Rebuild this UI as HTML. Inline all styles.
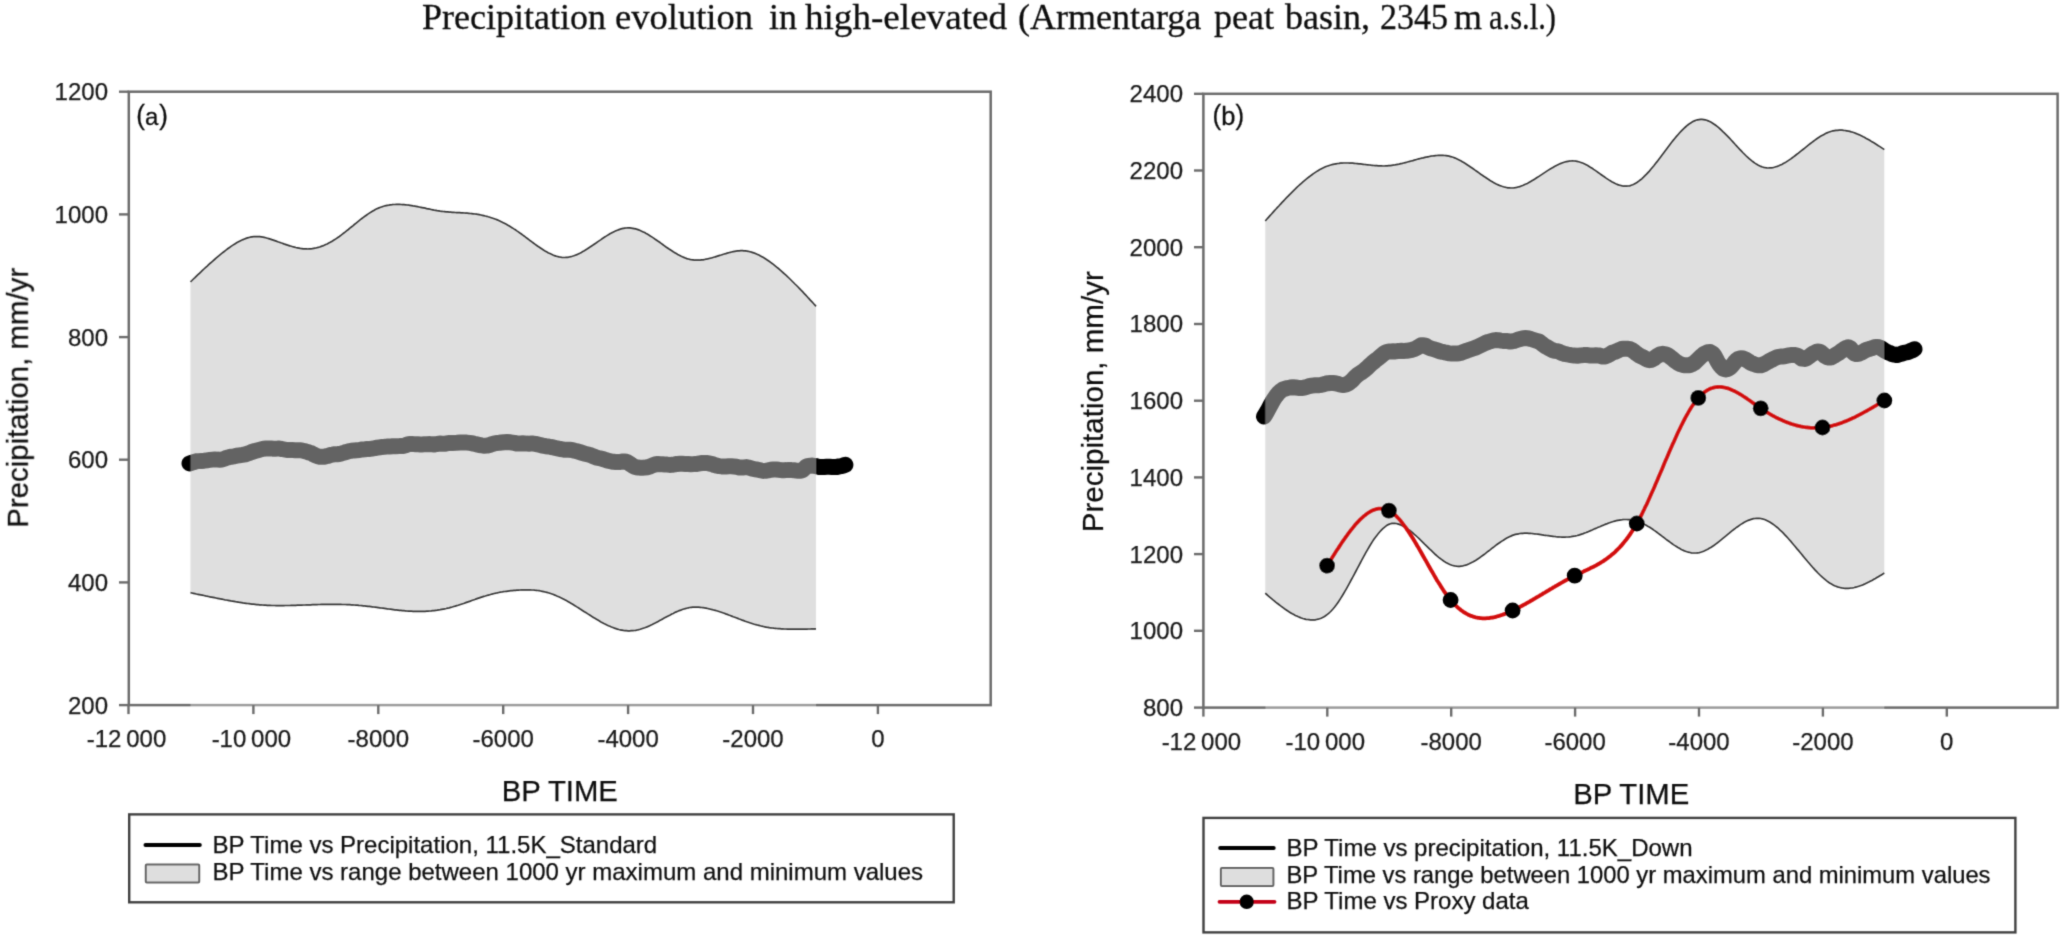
<!DOCTYPE html>
<html><head><meta charset="utf-8"><style>
html,body{margin:0;padding:0;background:#fff;width:2067px;height:945px;overflow:hidden}
svg{display:block}
.title{font-family:"Liberation Serif",serif;font-size:36px;fill:#111;stroke:#111;stroke-width:0.3px}
.tk{font-family:"Liberation Sans",sans-serif;font-size:24px;fill:#1a1a1a;stroke:#1a1a1a;stroke-width:0.25px}
.axt{font-family:"Liberation Sans",sans-serif;font-size:30px;fill:#111;stroke:#111;stroke-width:0.25px}
.lab{font-family:"Liberation Sans",sans-serif;font-size:24px;fill:#111;stroke:#111;stroke-width:0.3px}
.leg{font-family:"Liberation Sans",sans-serif;font-size:24px;fill:#111;stroke:#111;stroke-width:0.25px}
</style></head><body>
<svg width="2067" height="945" viewBox="0 0 2067 945">
<defs><filter id="soft" x="0" y="0" width="2067" height="945" filterUnits="userSpaceOnUse"><feConvolveMatrix order="3" kernelMatrix="0.025 0.1 0.025 0.1 0.5 0.1 0.025 0.1 0.025" edgeMode="duplicate" preserveAlpha="false"/></filter></defs>
<rect width="2067" height="945" fill="#ffffff"/>
<g filter="url(#soft)">
<text x="422" y="29" class="title">Precipitation</text><text x="615" y="29" class="title" textLength="138" lengthAdjust="spacingAndGlyphs">evolution</text><text x="769" y="29" class="title">in</text><text x="805" y="29" class="title" textLength="202" lengthAdjust="spacingAndGlyphs">high-elevated</text><text x="1018" y="29" class="title">(Armentarga</text><text x="1214" y="29" class="title">peat</text><text x="1285" y="29" class="title">basin,</text><text x="1380" y="29" class="title" textLength="68" lengthAdjust="spacingAndGlyphs">2345</text><text x="1454" y="29" class="title">m</text><text x="1489" y="29" class="title" textLength="67" lengthAdjust="spacingAndGlyphs">a.s.l.)</text>

<!-- LEFT -->
<path d="M189.5,463.4 L191.8,462.8 L193.8,462.1 L196.2,461.3 L198.7,461.1 L201.5,460.9 L204.3,460.7 L207.1,460.3 L209.8,459.9 L212.5,459.6 L214.9,459.4 L217.3,459.6 L219.6,459.7 L222.0,459.5 L224.3,458.7 L226.7,457.8 L229.1,457.2 L231.5,456.7 L234.0,456.4 L236.6,455.7 L239.3,455.3 L242.2,454.9 L245.3,454.4 L248.5,453.3 L251.7,452.0 L254.9,451.0 L258.0,450.2 L260.9,449.4 L263.5,448.7 L265.9,448.5 L268.6,448.4 L270.8,448.4 L272.9,448.7 L275.1,448.8 L277.5,448.6 L279.5,448.6 L281.9,449.0 L284.4,449.5 L287.0,450.0 L289.8,450.1 L292.5,450.1 L295.1,450.2 L297.6,450.2 L299.8,450.2 L302.6,450.6 L305.1,451.3 L307.3,451.9 L309.3,452.6 L311.3,453.2 L313.2,454.3 L315.3,455.3 L317.5,456.2 L319.6,456.7 L321.8,456.8 L324.0,456.8 L326.2,456.2 L328.4,455.8 L330.5,455.0 L332.5,454.7 L335.1,454.2 L337.0,454.3 L339.1,454.0 L341.5,453.4 L344.3,452.6 L346.4,451.9 L348.8,451.3 L351.4,450.7 L354.1,450.4 L356.8,450.2 L359.6,450.0 L362.4,449.4 L365.1,449.2 L367.6,448.9 L370.0,448.9 L372.1,448.6 L374.8,448.2 L377.3,447.7 L379.7,447.3 L382.4,446.9 L384.4,446.8 L386.7,446.6 L389.4,446.6 L392.5,446.3 L395.9,446.2 L399.6,446.1 L403.5,445.9 L405.5,445.3 L407.5,444.5 L409.6,443.9 L411.7,443.9 L413.8,444.1 L415.9,444.3 L418.0,444.3 L420.1,444.4 L422.1,444.4 L424.1,444.3 L426.1,444.2 L430.1,444.1 L432.1,444.3 L434.1,444.5 L436.2,444.2 L438.2,443.7 L440.3,443.6 L442.4,443.7 L444.5,443.8 L446.6,443.4 L448.7,443.0 L450.7,442.9 L452.7,442.9 L456.6,442.8 L460.3,442.6 L463.7,442.5 L466.8,442.6 L469.5,442.9 L471.9,443.2 L474.0,443.8 L476.8,444.4 L479.3,445.0 L481.7,445.4 L484.3,445.7 L487.0,445.6 L489.7,445.0 L492.1,444.1 L494.6,443.3 L497.3,442.9 L499.3,442.8 L501.5,442.5 L504.1,442.2 L507.0,442.0 L510.4,442.3 L514.2,442.9 L516.3,443.4 L518.3,443.5 L520.4,443.4 L522.6,443.3 L524.8,443.4 L526.9,443.6 L529.1,443.7 L531.2,443.6 L533.3,443.6 L535.3,443.9 L539.2,444.8 L542.6,445.6 L545.7,446.2 L548.4,446.5 L550.9,447.0 L553.2,447.4 L555.4,448.0 L557.4,448.4 L560.1,449.0 L562.7,449.4 L565.0,449.8 L567.2,449.8 L569.3,449.7 L571.8,450.0 L574.7,450.8 L577.5,451.4 L581.0,452.5 L582.9,453.1 L584.9,453.8 L587.1,454.3 L589.3,454.8 L591.5,455.6 L593.8,456.5 L596.0,457.4 L598.3,458.0 L600.5,458.4 L602.7,459.0 L604.7,459.6 L606.7,460.4 L610.4,461.2 L613.4,461.8 L615.8,462.0 L617.9,462.0 L620.3,461.9 L622.9,461.5 L625.0,461.4 L627.2,462.1 L629.2,463.3 L631.1,464.7 L632.9,465.9 L634.7,466.8 L636.5,467.3 L638.4,467.6 L640.5,467.7 L642.7,467.7 L644.9,467.6 L647.2,467.3 L649.6,466.6 L652.2,465.5 L654.9,464.5 L657.9,464.0 L660.1,464.2 L662.3,464.3 L664.7,464.5 L667.1,464.6 L669.6,464.9 L672.1,464.8 L674.7,464.4 L677.2,463.9 L679.8,463.7 L682.4,463.8 L685.2,463.9 L688.0,464.0 L691.0,464.2 L694.0,464.1 L696.9,463.9 L699.7,463.4 L702.4,463.0 L704.9,462.9 L707.2,463.0 L709.9,463.6 L712.4,464.1 L714.6,465.1 L716.9,465.7 L719.0,466.1 L721.7,466.4 L723.9,466.5 L726.2,466.5 L728.7,466.3 L731.3,466.3 L733.9,466.5 L736.5,466.8 L739.1,467.5 L741.6,467.4 L744.0,467.4 L746.3,467.1 L748.5,467.5 L750.6,468.1 L752.8,468.8 L754.9,469.3 L757.0,469.5 L759.1,470.0 L761.3,470.5 L763.5,470.9 L765.8,470.7 L768.2,470.4 L770.8,469.8 L773.4,469.5 L776.1,469.5 L778.8,469.8 L781.4,470.2 L784.0,470.2 L786.4,470.1 L788.6,469.9 L791.4,470.1 L793.7,470.2 L796.3,470.6 L798.4,470.8 L800.7,470.7 L802.8,469.9 L804.6,468.2 L806.2,466.7 L808.1,465.9 L810.4,465.7 L812.4,465.6 L814.6,465.9 L817.0,466.4 L819.4,467.0 L821.8,467.1 L824.2,467.0 L826.7,466.8 L829.4,466.8 L832.1,467.0 L834.7,466.9 L837.1,466.9 L839.2,466.4 L841.4,466.1 L843.5,465.5 L845.4,464.8" fill="none" stroke="#000" stroke-width="16" stroke-linecap="round" stroke-linejoin="round"/>
<path d="M190.5,281.9 L192.0,280.5 L193.5,279.0 L195.0,277.6 L196.5,276.1 L198.0,274.7 L199.5,273.3 L201.0,271.9 L202.5,270.4 L204.0,269.0 L205.5,267.6 L207.0,266.3 L208.5,264.9 L210.0,263.5 L211.6,262.2 L213.1,260.8 L214.6,259.5 L216.1,258.2 L217.6,256.9 L219.1,255.7 L220.6,254.4 L222.1,253.2 L223.6,252.0 L225.1,250.8 L226.6,249.7 L228.1,248.5 L229.6,247.5 L231.1,246.4 L232.6,245.4 L234.1,244.4 L235.6,243.5 L237.1,242.6 L238.6,241.8 L240.1,241.0 L241.6,240.3 L243.1,239.6 L244.6,239.0 L246.1,238.4 L247.6,237.9 L249.1,237.5 L250.6,237.2 L252.1,236.9 L253.7,236.7 L255.2,236.6 L256.7,236.6 L258.2,236.6 L259.7,236.7 L261.2,236.9 L262.7,237.1 L264.2,237.4 L265.7,237.8 L267.2,238.2 L268.7,238.6 L270.2,239.1 L271.7,239.6 L273.2,240.1 L274.7,240.6 L276.2,241.1 L277.7,241.7 L279.2,242.2 L280.7,242.8 L282.2,243.3 L283.7,243.9 L285.2,244.4 L286.7,244.9 L288.2,245.4 L289.7,245.9 L291.2,246.3 L292.7,246.7 L294.2,247.1 L295.8,247.5 L297.3,247.8 L298.8,248.1 L300.3,248.4 L301.8,248.6 L303.3,248.8 L304.8,248.9 L306.3,248.9 L307.8,249.0 L309.3,248.9 L310.8,248.8 L312.3,248.7 L313.8,248.4 L315.3,248.2 L316.8,247.8 L318.3,247.4 L319.8,247.0 L321.3,246.4 L322.8,245.9 L324.3,245.3 L325.8,244.6 L327.3,243.9 L328.8,243.1 L330.3,242.3 L331.8,241.4 L333.3,240.5 L334.8,239.6 L336.3,238.6 L337.9,237.5 L339.4,236.5 L340.9,235.3 L342.4,234.2 L343.9,233.0 L345.4,231.9 L346.9,230.7 L348.4,229.5 L349.9,228.2 L351.4,227.0 L352.9,225.8 L354.4,224.5 L355.9,223.3 L357.4,222.1 L358.9,220.9 L360.4,219.7 L361.9,218.5 L363.4,217.4 L364.9,216.3 L366.4,215.2 L367.9,214.1 L369.4,213.1 L370.9,212.2 L372.4,211.3 L373.9,210.4 L375.4,209.6 L376.9,208.8 L378.5,208.1 L380.0,207.5 L381.5,207.0 L383.0,206.5 L384.5,206.0 L386.0,205.6 L387.5,205.3 L389.0,205.1 L390.5,204.8 L392.0,204.7 L393.5,204.5 L395.0,204.5 L396.5,204.4 L398.0,204.4 L399.5,204.4 L401.0,204.5 L402.5,204.6 L404.0,204.7 L405.5,204.8 L407.0,205.0 L408.5,205.2 L410.0,205.4 L411.5,205.6 L413.0,205.9 L414.5,206.1 L416.0,206.4 L417.5,206.7 L419.0,207.0 L420.6,207.3 L422.1,207.6 L423.6,207.9 L425.1,208.2 L426.6,208.6 L428.1,208.9 L429.6,209.2 L431.1,209.5 L432.6,209.8 L434.1,210.1 L435.6,210.3 L437.1,210.6 L438.6,210.8 L440.1,211.1 L441.6,211.3 L443.1,211.5 L444.6,211.6 L446.1,211.8 L447.6,211.9 L449.1,212.1 L450.6,212.2 L452.1,212.3 L453.6,212.4 L455.1,212.5 L456.6,212.6 L458.1,212.6 L459.6,212.7 L461.1,212.8 L462.7,212.9 L464.2,213.0 L465.7,213.1 L467.2,213.2 L468.7,213.3 L470.2,213.5 L471.7,213.6 L473.2,213.8 L474.7,214.0 L476.2,214.2 L477.7,214.4 L479.2,214.7 L480.7,215.0 L482.2,215.3 L483.7,215.6 L485.2,216.0 L486.7,216.3 L488.2,216.8 L489.7,217.2 L491.2,217.7 L492.7,218.2 L494.2,218.7 L495.7,219.3 L497.2,219.9 L498.7,220.6 L500.2,221.3 L501.7,222.0 L503.2,222.7 L504.8,223.5 L506.3,224.3 L507.8,225.2 L509.3,226.1 L510.8,227.0 L512.3,227.9 L513.8,228.9 L515.3,229.8 L516.8,230.9 L518.3,231.9 L519.8,233.0 L521.3,234.0 L522.8,235.1 L524.3,236.2 L525.8,237.4 L527.3,238.5 L528.8,239.6 L530.3,240.8 L531.8,241.9 L533.3,243.0 L534.8,244.1 L536.3,245.2 L537.8,246.3 L539.3,247.3 L540.8,248.3 L542.3,249.3 L543.8,250.3 L545.4,251.2 L546.9,252.0 L548.4,252.9 L549.9,253.6 L551.4,254.3 L552.9,255.0 L554.4,255.6 L555.9,256.1 L557.4,256.5 L558.9,256.9 L560.4,257.2 L561.9,257.4 L563.4,257.5 L564.9,257.5 L566.4,257.4 L567.9,257.3 L569.4,257.0 L570.9,256.7 L572.4,256.3 L573.9,255.8 L575.4,255.2 L576.9,254.6 L578.4,253.9 L579.9,253.2 L581.4,252.4 L582.9,251.5 L584.4,250.7 L585.9,249.8 L587.5,248.8 L589.0,247.8 L590.5,246.8 L592.0,245.8 L593.5,244.8 L595.0,243.7 L596.5,242.7 L598.0,241.6 L599.5,240.6 L601.0,239.6 L602.5,238.5 L604.0,237.5 L605.5,236.6 L607.0,235.6 L608.5,234.7 L610.0,233.8 L611.5,233.0 L613.0,232.2 L614.5,231.5 L616.0,230.8 L617.5,230.2 L619.0,229.6 L620.5,229.1 L622.0,228.7 L623.5,228.4 L625.0,228.1 L626.5,228.0 L628.0,227.9 L629.6,227.9 L631.1,228.1 L632.6,228.3 L634.1,228.6 L635.6,228.9 L637.1,229.4 L638.6,229.9 L640.1,230.5 L641.6,231.2 L643.1,231.9 L644.6,232.6 L646.1,233.5 L647.6,234.3 L649.1,235.2 L650.6,236.2 L652.1,237.1 L653.6,238.1 L655.1,239.2 L656.6,240.2 L658.1,241.3 L659.6,242.3 L661.1,243.4 L662.6,244.5 L664.1,245.6 L665.6,246.7 L667.1,247.7 L668.6,248.8 L670.2,249.8 L671.7,250.8 L673.2,251.8 L674.7,252.7 L676.2,253.6 L677.7,254.5 L679.2,255.3 L680.7,256.1 L682.2,256.8 L683.7,257.4 L685.2,258.0 L686.7,258.6 L688.2,259.0 L689.7,259.4 L691.2,259.7 L692.7,259.9 L694.2,260.1 L695.7,260.2 L697.2,260.2 L698.7,260.2 L700.2,260.1 L701.7,259.9 L703.2,259.8 L704.7,259.5 L706.2,259.2 L707.7,258.9 L709.2,258.5 L710.7,258.2 L712.3,257.7 L713.8,257.3 L715.3,256.9 L716.8,256.4 L718.3,255.9 L719.8,255.4 L721.3,255.0 L722.8,254.5 L724.3,254.0 L725.8,253.6 L727.3,253.1 L728.8,252.7 L730.3,252.3 L731.8,252.0 L733.3,251.7 L734.8,251.4 L736.3,251.1 L737.8,250.9 L739.3,250.8 L740.8,250.7 L742.3,250.7 L743.8,250.8 L745.3,250.9 L746.8,251.1 L748.3,251.3 L749.8,251.7 L751.3,252.1 L752.8,252.6 L754.4,253.1 L755.9,253.7 L757.4,254.4 L758.9,255.1 L760.4,255.9 L761.9,256.7 L763.4,257.6 L764.9,258.5 L766.4,259.5 L767.9,260.5 L769.4,261.5 L770.9,262.6 L772.4,263.7 L773.9,264.9 L775.4,266.1 L776.9,267.3 L778.4,268.5 L779.9,269.8 L781.4,271.1 L782.9,272.5 L784.4,273.8 L785.9,275.2 L787.4,276.6 L788.9,278.0 L790.4,279.5 L791.9,281.0 L793.4,282.5 L794.9,284.0 L796.5,285.5 L798.0,287.0 L799.5,288.6 L801.0,290.2 L802.5,291.7 L804.0,293.3 L805.5,294.9 L807.0,296.5 L808.5,298.2 L810.0,299.8 L811.5,301.4 L813.0,303.0 L814.5,304.7 L816.0,306.3 L816.0,628.8 L814.5,628.8 L813.0,628.9 L811.5,628.9 L810.0,629.0 L808.5,629.0 L807.0,629.1 L805.5,629.1 L804.0,629.1 L802.5,629.2 L801.0,629.2 L799.5,629.2 L798.0,629.2 L796.5,629.2 L794.9,629.2 L793.4,629.2 L791.9,629.2 L790.4,629.2 L788.9,629.1 L787.4,629.1 L785.9,629.0 L784.4,629.0 L782.9,628.9 L781.4,628.8 L779.9,628.7 L778.4,628.6 L776.9,628.5 L775.4,628.3 L773.9,628.2 L772.4,628.0 L770.9,627.8 L769.4,627.6 L767.9,627.3 L766.4,627.1 L764.9,626.8 L763.4,626.5 L761.9,626.2 L760.4,625.8 L758.9,625.4 L757.4,625.0 L755.9,624.6 L754.4,624.2 L752.8,623.7 L751.3,623.2 L749.8,622.7 L748.3,622.2 L746.8,621.7 L745.3,621.2 L743.8,620.6 L742.3,620.1 L740.8,619.5 L739.3,619.0 L737.8,618.4 L736.3,617.8 L734.8,617.2 L733.3,616.7 L731.8,616.1 L730.3,615.5 L728.8,615.0 L727.3,614.4 L725.8,613.9 L724.3,613.3 L722.8,612.8 L721.3,612.3 L719.8,611.8 L718.3,611.3 L716.8,610.8 L715.3,610.4 L713.8,610.0 L712.3,609.6 L710.7,609.2 L709.2,608.8 L707.7,608.5 L706.2,608.2 L704.7,607.9 L703.2,607.7 L701.7,607.5 L700.2,607.3 L698.7,607.2 L697.2,607.1 L695.7,607.1 L694.2,607.1 L692.7,607.2 L691.2,607.3 L689.7,607.5 L688.2,607.8 L686.7,608.2 L685.2,608.6 L683.7,609.0 L682.2,609.5 L680.7,610.1 L679.2,610.6 L677.7,611.3 L676.2,611.9 L674.7,612.6 L673.2,613.4 L671.7,614.1 L670.2,614.9 L668.6,615.7 L667.1,616.5 L665.6,617.3 L664.1,618.1 L662.6,618.9 L661.1,619.8 L659.6,620.6 L658.1,621.4 L656.6,622.2 L655.1,623.0 L653.6,623.7 L652.1,624.5 L650.6,625.2 L649.1,625.9 L647.6,626.6 L646.1,627.2 L644.6,627.8 L643.1,628.3 L641.6,628.8 L640.1,629.3 L638.6,629.7 L637.1,630.0 L635.6,630.3 L634.1,630.5 L632.6,630.6 L631.1,630.7 L629.6,630.8 L628.0,630.8 L626.5,630.7 L625.0,630.6 L623.5,630.4 L622.0,630.1 L620.5,629.8 L619.0,629.5 L617.5,629.1 L616.0,628.6 L614.5,628.1 L613.0,627.5 L611.5,627.0 L610.0,626.3 L608.5,625.7 L607.0,625.0 L605.5,624.2 L604.0,623.5 L602.5,622.7 L601.0,621.9 L599.5,621.0 L598.0,620.1 L596.5,619.2 L595.0,618.3 L593.5,617.4 L592.0,616.5 L590.5,615.5 L589.0,614.6 L587.5,613.6 L585.9,612.6 L584.4,611.7 L582.9,610.7 L581.4,609.7 L579.9,608.8 L578.4,607.8 L576.9,606.9 L575.4,605.9 L573.9,605.0 L572.4,604.1 L570.9,603.2 L569.4,602.3 L567.9,601.4 L566.4,600.6 L564.9,599.8 L563.4,599.0 L561.9,598.2 L560.4,597.5 L558.9,596.8 L557.4,596.2 L555.9,595.5 L554.4,594.9 L552.9,594.3 L551.4,593.8 L549.9,593.3 L548.4,592.8 L546.9,592.4 L545.4,592.0 L543.8,591.6 L542.3,591.3 L540.8,591.0 L539.3,590.7 L537.8,590.5 L536.3,590.3 L534.8,590.2 L533.3,590.0 L531.8,590.0 L530.3,589.9 L528.8,589.8 L527.3,589.8 L525.8,589.8 L524.3,589.8 L522.8,589.9 L521.3,589.9 L519.8,590.0 L518.3,590.1 L516.8,590.2 L515.3,590.3 L513.8,590.4 L512.3,590.6 L510.8,590.7 L509.3,590.9 L507.8,591.1 L506.3,591.3 L504.8,591.5 L503.2,591.7 L501.7,592.0 L500.2,592.2 L498.7,592.5 L497.2,592.8 L495.7,593.2 L494.2,593.5 L492.7,593.9 L491.2,594.3 L489.7,594.7 L488.2,595.1 L486.7,595.5 L485.2,596.0 L483.7,596.4 L482.2,596.9 L480.7,597.4 L479.2,597.9 L477.7,598.4 L476.2,598.9 L474.7,599.5 L473.2,600.0 L471.7,600.5 L470.2,601.1 L468.7,601.6 L467.2,602.1 L465.7,602.6 L464.2,603.2 L462.7,603.7 L461.1,604.2 L459.6,604.7 L458.1,605.2 L456.6,605.6 L455.1,606.1 L453.6,606.5 L452.1,607.0 L450.6,607.4 L449.1,607.8 L447.6,608.1 L446.1,608.5 L444.6,608.8 L443.1,609.1 L441.6,609.4 L440.1,609.7 L438.6,609.9 L437.1,610.2 L435.6,610.4 L434.1,610.6 L432.6,610.7 L431.1,610.9 L429.6,611.0 L428.1,611.1 L426.6,611.2 L425.1,611.3 L423.6,611.4 L422.1,611.4 L420.6,611.4 L419.0,611.4 L417.5,611.4 L416.0,611.4 L414.5,611.4 L413.0,611.3 L411.5,611.2 L410.0,611.2 L408.5,611.1 L407.0,611.0 L405.5,610.8 L404.0,610.7 L402.5,610.6 L401.0,610.4 L399.5,610.3 L398.0,610.1 L396.5,609.9 L395.0,609.8 L393.5,609.6 L392.0,609.4 L390.5,609.2 L389.0,609.0 L387.5,608.8 L386.0,608.6 L384.5,608.4 L383.0,608.2 L381.5,608.0 L380.0,607.8 L378.5,607.6 L376.9,607.4 L375.4,607.2 L373.9,607.0 L372.4,606.8 L370.9,606.6 L369.4,606.4 L367.9,606.3 L366.4,606.1 L364.9,605.9 L363.4,605.8 L361.9,605.6 L360.4,605.5 L358.9,605.4 L357.4,605.2 L355.9,605.1 L354.4,605.0 L352.9,604.9 L351.4,604.8 L349.9,604.7 L348.4,604.7 L346.9,604.6 L345.4,604.5 L343.9,604.5 L342.4,604.5 L340.9,604.4 L339.4,604.4 L337.9,604.4 L336.3,604.3 L334.8,604.3 L333.3,604.3 L331.8,604.3 L330.3,604.3 L328.8,604.3 L327.3,604.3 L325.8,604.4 L324.3,604.4 L322.8,604.4 L321.3,604.4 L319.8,604.5 L318.3,604.5 L316.8,604.6 L315.3,604.6 L313.8,604.7 L312.3,604.7 L310.8,604.8 L309.3,604.8 L307.8,604.9 L306.3,604.9 L304.8,605.0 L303.3,605.0 L301.8,605.1 L300.3,605.1 L298.8,605.2 L297.3,605.2 L295.8,605.3 L294.2,605.3 L292.7,605.4 L291.2,605.4 L289.7,605.5 L288.2,605.5 L286.7,605.5 L285.2,605.5 L283.7,605.6 L282.2,605.6 L280.7,605.6 L279.2,605.6 L277.7,605.6 L276.2,605.6 L274.7,605.5 L273.2,605.5 L271.7,605.5 L270.2,605.4 L268.7,605.4 L267.2,605.3 L265.7,605.2 L264.2,605.1 L262.7,605.0 L261.2,604.9 L259.7,604.8 L258.2,604.7 L256.7,604.6 L255.2,604.4 L253.7,604.2 L252.1,604.1 L250.6,603.9 L249.1,603.7 L247.6,603.5 L246.1,603.3 L244.6,603.1 L243.1,602.9 L241.6,602.6 L240.1,602.4 L238.6,602.2 L237.1,601.9 L235.6,601.7 L234.1,601.4 L232.6,601.1 L231.1,600.9 L229.6,600.6 L228.1,600.3 L226.6,600.0 L225.1,599.8 L223.6,599.5 L222.1,599.2 L220.6,598.9 L219.1,598.6 L217.6,598.3 L216.1,598.0 L214.6,597.7 L213.1,597.4 L211.6,597.1 L210.0,596.8 L208.5,596.5 L207.0,596.2 L205.5,595.8 L204.0,595.5 L202.5,595.2 L201.0,594.9 L199.5,594.6 L198.0,594.3 L196.5,594.0 L195.0,593.6 L193.5,593.3 L192.0,593.0 L190.5,592.7 Z" fill="rgba(192,192,192,0.514)" stroke="none"/>
<path d="M190.5,281.9 L192.0,280.5 L193.5,279.0 L195.0,277.6 L196.5,276.1 L198.0,274.7 L199.5,273.3 L201.0,271.9 L202.5,270.4 L204.0,269.0 L205.5,267.6 L207.0,266.3 L208.5,264.9 L210.0,263.5 L211.6,262.2 L213.1,260.8 L214.6,259.5 L216.1,258.2 L217.6,256.9 L219.1,255.7 L220.6,254.4 L222.1,253.2 L223.6,252.0 L225.1,250.8 L226.6,249.7 L228.1,248.5 L229.6,247.5 L231.1,246.4 L232.6,245.4 L234.1,244.4 L235.6,243.5 L237.1,242.6 L238.6,241.8 L240.1,241.0 L241.6,240.3 L243.1,239.6 L244.6,239.0 L246.1,238.4 L247.6,237.9 L249.1,237.5 L250.6,237.2 L252.1,236.9 L253.7,236.7 L255.2,236.6 L256.7,236.6 L258.2,236.6 L259.7,236.7 L261.2,236.9 L262.7,237.1 L264.2,237.4 L265.7,237.8 L267.2,238.2 L268.7,238.6 L270.2,239.1 L271.7,239.6 L273.2,240.1 L274.7,240.6 L276.2,241.1 L277.7,241.7 L279.2,242.2 L280.7,242.8 L282.2,243.3 L283.7,243.9 L285.2,244.4 L286.7,244.9 L288.2,245.4 L289.7,245.9 L291.2,246.3 L292.7,246.7 L294.2,247.1 L295.8,247.5 L297.3,247.8 L298.8,248.1 L300.3,248.4 L301.8,248.6 L303.3,248.8 L304.8,248.9 L306.3,248.9 L307.8,249.0 L309.3,248.9 L310.8,248.8 L312.3,248.7 L313.8,248.4 L315.3,248.2 L316.8,247.8 L318.3,247.4 L319.8,247.0 L321.3,246.4 L322.8,245.9 L324.3,245.3 L325.8,244.6 L327.3,243.9 L328.8,243.1 L330.3,242.3 L331.8,241.4 L333.3,240.5 L334.8,239.6 L336.3,238.6 L337.9,237.5 L339.4,236.5 L340.9,235.3 L342.4,234.2 L343.9,233.0 L345.4,231.9 L346.9,230.7 L348.4,229.5 L349.9,228.2 L351.4,227.0 L352.9,225.8 L354.4,224.5 L355.9,223.3 L357.4,222.1 L358.9,220.9 L360.4,219.7 L361.9,218.5 L363.4,217.4 L364.9,216.3 L366.4,215.2 L367.9,214.1 L369.4,213.1 L370.9,212.2 L372.4,211.3 L373.9,210.4 L375.4,209.6 L376.9,208.8 L378.5,208.1 L380.0,207.5 L381.5,207.0 L383.0,206.5 L384.5,206.0 L386.0,205.6 L387.5,205.3 L389.0,205.1 L390.5,204.8 L392.0,204.7 L393.5,204.5 L395.0,204.5 L396.5,204.4 L398.0,204.4 L399.5,204.4 L401.0,204.5 L402.5,204.6 L404.0,204.7 L405.5,204.8 L407.0,205.0 L408.5,205.2 L410.0,205.4 L411.5,205.6 L413.0,205.9 L414.5,206.1 L416.0,206.4 L417.5,206.7 L419.0,207.0 L420.6,207.3 L422.1,207.6 L423.6,207.9 L425.1,208.2 L426.6,208.6 L428.1,208.9 L429.6,209.2 L431.1,209.5 L432.6,209.8 L434.1,210.1 L435.6,210.3 L437.1,210.6 L438.6,210.8 L440.1,211.1 L441.6,211.3 L443.1,211.5 L444.6,211.6 L446.1,211.8 L447.6,211.9 L449.1,212.1 L450.6,212.2 L452.1,212.3 L453.6,212.4 L455.1,212.5 L456.6,212.6 L458.1,212.6 L459.6,212.7 L461.1,212.8 L462.7,212.9 L464.2,213.0 L465.7,213.1 L467.2,213.2 L468.7,213.3 L470.2,213.5 L471.7,213.6 L473.2,213.8 L474.7,214.0 L476.2,214.2 L477.7,214.4 L479.2,214.7 L480.7,215.0 L482.2,215.3 L483.7,215.6 L485.2,216.0 L486.7,216.3 L488.2,216.8 L489.7,217.2 L491.2,217.7 L492.7,218.2 L494.2,218.7 L495.7,219.3 L497.2,219.9 L498.7,220.6 L500.2,221.3 L501.7,222.0 L503.2,222.7 L504.8,223.5 L506.3,224.3 L507.8,225.2 L509.3,226.1 L510.8,227.0 L512.3,227.9 L513.8,228.9 L515.3,229.8 L516.8,230.9 L518.3,231.9 L519.8,233.0 L521.3,234.0 L522.8,235.1 L524.3,236.2 L525.8,237.4 L527.3,238.5 L528.8,239.6 L530.3,240.8 L531.8,241.9 L533.3,243.0 L534.8,244.1 L536.3,245.2 L537.8,246.3 L539.3,247.3 L540.8,248.3 L542.3,249.3 L543.8,250.3 L545.4,251.2 L546.9,252.0 L548.4,252.9 L549.9,253.6 L551.4,254.3 L552.9,255.0 L554.4,255.6 L555.9,256.1 L557.4,256.5 L558.9,256.9 L560.4,257.2 L561.9,257.4 L563.4,257.5 L564.9,257.5 L566.4,257.4 L567.9,257.3 L569.4,257.0 L570.9,256.7 L572.4,256.3 L573.9,255.8 L575.4,255.2 L576.9,254.6 L578.4,253.9 L579.9,253.2 L581.4,252.4 L582.9,251.5 L584.4,250.7 L585.9,249.8 L587.5,248.8 L589.0,247.8 L590.5,246.8 L592.0,245.8 L593.5,244.8 L595.0,243.7 L596.5,242.7 L598.0,241.6 L599.5,240.6 L601.0,239.6 L602.5,238.5 L604.0,237.5 L605.5,236.6 L607.0,235.6 L608.5,234.7 L610.0,233.8 L611.5,233.0 L613.0,232.2 L614.5,231.5 L616.0,230.8 L617.5,230.2 L619.0,229.6 L620.5,229.1 L622.0,228.7 L623.5,228.4 L625.0,228.1 L626.5,228.0 L628.0,227.9 L629.6,227.9 L631.1,228.1 L632.6,228.3 L634.1,228.6 L635.6,228.9 L637.1,229.4 L638.6,229.9 L640.1,230.5 L641.6,231.2 L643.1,231.9 L644.6,232.6 L646.1,233.5 L647.6,234.3 L649.1,235.2 L650.6,236.2 L652.1,237.1 L653.6,238.1 L655.1,239.2 L656.6,240.2 L658.1,241.3 L659.6,242.3 L661.1,243.4 L662.6,244.5 L664.1,245.6 L665.6,246.7 L667.1,247.7 L668.6,248.8 L670.2,249.8 L671.7,250.8 L673.2,251.8 L674.7,252.7 L676.2,253.6 L677.7,254.5 L679.2,255.3 L680.7,256.1 L682.2,256.8 L683.7,257.4 L685.2,258.0 L686.7,258.6 L688.2,259.0 L689.7,259.4 L691.2,259.7 L692.7,259.9 L694.2,260.1 L695.7,260.2 L697.2,260.2 L698.7,260.2 L700.2,260.1 L701.7,259.9 L703.2,259.8 L704.7,259.5 L706.2,259.2 L707.7,258.9 L709.2,258.5 L710.7,258.2 L712.3,257.7 L713.8,257.3 L715.3,256.9 L716.8,256.4 L718.3,255.9 L719.8,255.4 L721.3,255.0 L722.8,254.5 L724.3,254.0 L725.8,253.6 L727.3,253.1 L728.8,252.7 L730.3,252.3 L731.8,252.0 L733.3,251.7 L734.8,251.4 L736.3,251.1 L737.8,250.9 L739.3,250.8 L740.8,250.7 L742.3,250.7 L743.8,250.8 L745.3,250.9 L746.8,251.1 L748.3,251.3 L749.8,251.7 L751.3,252.1 L752.8,252.6 L754.4,253.1 L755.9,253.7 L757.4,254.4 L758.9,255.1 L760.4,255.9 L761.9,256.7 L763.4,257.6 L764.9,258.5 L766.4,259.5 L767.9,260.5 L769.4,261.5 L770.9,262.6 L772.4,263.7 L773.9,264.9 L775.4,266.1 L776.9,267.3 L778.4,268.5 L779.9,269.8 L781.4,271.1 L782.9,272.5 L784.4,273.8 L785.9,275.2 L787.4,276.6 L788.9,278.0 L790.4,279.5 L791.9,281.0 L793.4,282.5 L794.9,284.0 L796.5,285.5 L798.0,287.0 L799.5,288.6 L801.0,290.2 L802.5,291.7 L804.0,293.3 L805.5,294.9 L807.0,296.5 L808.5,298.2 L810.0,299.8 L811.5,301.4 L813.0,303.0 L814.5,304.7 L816.0,306.3" fill="none" stroke="#333" stroke-width="1.7"/>
<path d="M190.5,592.7 L192.0,593.0 L193.5,593.3 L195.0,593.6 L196.5,594.0 L198.0,594.3 L199.5,594.6 L201.0,594.9 L202.5,595.2 L204.0,595.5 L205.5,595.8 L207.0,596.2 L208.5,596.5 L210.0,596.8 L211.6,597.1 L213.1,597.4 L214.6,597.7 L216.1,598.0 L217.6,598.3 L219.1,598.6 L220.6,598.9 L222.1,599.2 L223.6,599.5 L225.1,599.8 L226.6,600.0 L228.1,600.3 L229.6,600.6 L231.1,600.9 L232.6,601.1 L234.1,601.4 L235.6,601.7 L237.1,601.9 L238.6,602.2 L240.1,602.4 L241.6,602.6 L243.1,602.9 L244.6,603.1 L246.1,603.3 L247.6,603.5 L249.1,603.7 L250.6,603.9 L252.1,604.1 L253.7,604.2 L255.2,604.4 L256.7,604.6 L258.2,604.7 L259.7,604.8 L261.2,604.9 L262.7,605.0 L264.2,605.1 L265.7,605.2 L267.2,605.3 L268.7,605.4 L270.2,605.4 L271.7,605.5 L273.2,605.5 L274.7,605.5 L276.2,605.6 L277.7,605.6 L279.2,605.6 L280.7,605.6 L282.2,605.6 L283.7,605.6 L285.2,605.5 L286.7,605.5 L288.2,605.5 L289.7,605.5 L291.2,605.4 L292.7,605.4 L294.2,605.3 L295.8,605.3 L297.3,605.2 L298.8,605.2 L300.3,605.1 L301.8,605.1 L303.3,605.0 L304.8,605.0 L306.3,604.9 L307.8,604.9 L309.3,604.8 L310.8,604.8 L312.3,604.7 L313.8,604.7 L315.3,604.6 L316.8,604.6 L318.3,604.5 L319.8,604.5 L321.3,604.4 L322.8,604.4 L324.3,604.4 L325.8,604.4 L327.3,604.3 L328.8,604.3 L330.3,604.3 L331.8,604.3 L333.3,604.3 L334.8,604.3 L336.3,604.3 L337.9,604.4 L339.4,604.4 L340.9,604.4 L342.4,604.5 L343.9,604.5 L345.4,604.5 L346.9,604.6 L348.4,604.7 L349.9,604.7 L351.4,604.8 L352.9,604.9 L354.4,605.0 L355.9,605.1 L357.4,605.2 L358.9,605.4 L360.4,605.5 L361.9,605.6 L363.4,605.8 L364.9,605.9 L366.4,606.1 L367.9,606.3 L369.4,606.4 L370.9,606.6 L372.4,606.8 L373.9,607.0 L375.4,607.2 L376.9,607.4 L378.5,607.6 L380.0,607.8 L381.5,608.0 L383.0,608.2 L384.5,608.4 L386.0,608.6 L387.5,608.8 L389.0,609.0 L390.5,609.2 L392.0,609.4 L393.5,609.6 L395.0,609.8 L396.5,609.9 L398.0,610.1 L399.5,610.3 L401.0,610.4 L402.5,610.6 L404.0,610.7 L405.5,610.8 L407.0,611.0 L408.5,611.1 L410.0,611.2 L411.5,611.2 L413.0,611.3 L414.5,611.4 L416.0,611.4 L417.5,611.4 L419.0,611.4 L420.6,611.4 L422.1,611.4 L423.6,611.4 L425.1,611.3 L426.6,611.2 L428.1,611.1 L429.6,611.0 L431.1,610.9 L432.6,610.7 L434.1,610.6 L435.6,610.4 L437.1,610.2 L438.6,609.9 L440.1,609.7 L441.6,609.4 L443.1,609.1 L444.6,608.8 L446.1,608.5 L447.6,608.1 L449.1,607.8 L450.6,607.4 L452.1,607.0 L453.6,606.5 L455.1,606.1 L456.6,605.6 L458.1,605.2 L459.6,604.7 L461.1,604.2 L462.7,603.7 L464.2,603.2 L465.7,602.6 L467.2,602.1 L468.7,601.6 L470.2,601.1 L471.7,600.5 L473.2,600.0 L474.7,599.5 L476.2,598.9 L477.7,598.4 L479.2,597.9 L480.7,597.4 L482.2,596.9 L483.7,596.4 L485.2,596.0 L486.7,595.5 L488.2,595.1 L489.7,594.7 L491.2,594.3 L492.7,593.9 L494.2,593.5 L495.7,593.2 L497.2,592.8 L498.7,592.5 L500.2,592.2 L501.7,592.0 L503.2,591.7 L504.8,591.5 L506.3,591.3 L507.8,591.1 L509.3,590.9 L510.8,590.7 L512.3,590.6 L513.8,590.4 L515.3,590.3 L516.8,590.2 L518.3,590.1 L519.8,590.0 L521.3,589.9 L522.8,589.9 L524.3,589.8 L525.8,589.8 L527.3,589.8 L528.8,589.8 L530.3,589.9 L531.8,590.0 L533.3,590.0 L534.8,590.2 L536.3,590.3 L537.8,590.5 L539.3,590.7 L540.8,591.0 L542.3,591.3 L543.8,591.6 L545.4,592.0 L546.9,592.4 L548.4,592.8 L549.9,593.3 L551.4,593.8 L552.9,594.3 L554.4,594.9 L555.9,595.5 L557.4,596.2 L558.9,596.8 L560.4,597.5 L561.9,598.2 L563.4,599.0 L564.9,599.8 L566.4,600.6 L567.9,601.4 L569.4,602.3 L570.9,603.2 L572.4,604.1 L573.9,605.0 L575.4,605.9 L576.9,606.9 L578.4,607.8 L579.9,608.8 L581.4,609.7 L582.9,610.7 L584.4,611.7 L585.9,612.6 L587.5,613.6 L589.0,614.6 L590.5,615.5 L592.0,616.5 L593.5,617.4 L595.0,618.3 L596.5,619.2 L598.0,620.1 L599.5,621.0 L601.0,621.9 L602.5,622.7 L604.0,623.5 L605.5,624.2 L607.0,625.0 L608.5,625.7 L610.0,626.3 L611.5,627.0 L613.0,627.5 L614.5,628.1 L616.0,628.6 L617.5,629.1 L619.0,629.5 L620.5,629.8 L622.0,630.1 L623.5,630.4 L625.0,630.6 L626.5,630.7 L628.0,630.8 L629.6,630.8 L631.1,630.7 L632.6,630.6 L634.1,630.5 L635.6,630.3 L637.1,630.0 L638.6,629.7 L640.1,629.3 L641.6,628.8 L643.1,628.3 L644.6,627.8 L646.1,627.2 L647.6,626.6 L649.1,625.9 L650.6,625.2 L652.1,624.5 L653.6,623.7 L655.1,623.0 L656.6,622.2 L658.1,621.4 L659.6,620.6 L661.1,619.8 L662.6,618.9 L664.1,618.1 L665.6,617.3 L667.1,616.5 L668.6,615.7 L670.2,614.9 L671.7,614.1 L673.2,613.4 L674.7,612.6 L676.2,611.9 L677.7,611.3 L679.2,610.6 L680.7,610.1 L682.2,609.5 L683.7,609.0 L685.2,608.6 L686.7,608.2 L688.2,607.8 L689.7,607.5 L691.2,607.3 L692.7,607.2 L694.2,607.1 L695.7,607.1 L697.2,607.1 L698.7,607.2 L700.2,607.3 L701.7,607.5 L703.2,607.7 L704.7,607.9 L706.2,608.2 L707.7,608.5 L709.2,608.8 L710.7,609.2 L712.3,609.6 L713.8,610.0 L715.3,610.4 L716.8,610.8 L718.3,611.3 L719.8,611.8 L721.3,612.3 L722.8,612.8 L724.3,613.3 L725.8,613.9 L727.3,614.4 L728.8,615.0 L730.3,615.5 L731.8,616.1 L733.3,616.7 L734.8,617.2 L736.3,617.8 L737.8,618.4 L739.3,619.0 L740.8,619.5 L742.3,620.1 L743.8,620.6 L745.3,621.2 L746.8,621.7 L748.3,622.2 L749.8,622.7 L751.3,623.2 L752.8,623.7 L754.4,624.2 L755.9,624.6 L757.4,625.0 L758.9,625.4 L760.4,625.8 L761.9,626.2 L763.4,626.5 L764.9,626.8 L766.4,627.1 L767.9,627.3 L769.4,627.6 L770.9,627.8 L772.4,628.0 L773.9,628.2 L775.4,628.3 L776.9,628.5 L778.4,628.6 L779.9,628.7 L781.4,628.8 L782.9,628.9 L784.4,629.0 L785.9,629.0 L787.4,629.1 L788.9,629.1 L790.4,629.2 L791.9,629.2 L793.4,629.2 L794.9,629.2 L796.5,629.2 L798.0,629.2 L799.5,629.2 L801.0,629.2 L802.5,629.2 L804.0,629.1 L805.5,629.1 L807.0,629.1 L808.5,629.0 L810.0,629.0 L811.5,628.9 L813.0,628.9 L814.5,628.8 L816.0,628.8" fill="none" stroke="#333" stroke-width="1.7"/>
<rect x="128.8" y="91.7" width="861.9" height="613.4" fill="none" stroke="#6c6c6c" stroke-width="2.5"/>
<rect x="190.5" y="703" width="625.5" height="4.2" fill="rgba(255,255,255,0.32)"/>
<line x1="119" y1="705.1" x2="128.8" y2="705.1" stroke="#6c6c6c" stroke-width="2.4"/><text x="108" y="713.5" text-anchor="end" class="tk">200</text><line x1="119" y1="582.4" x2="128.8" y2="582.4" stroke="#6c6c6c" stroke-width="2.4"/><text x="108" y="590.8" text-anchor="end" class="tk">400</text><line x1="119" y1="459.7" x2="128.8" y2="459.7" stroke="#6c6c6c" stroke-width="2.4"/><text x="108" y="468.1" text-anchor="end" class="tk">600</text><line x1="119" y1="337.1" x2="128.8" y2="337.1" stroke="#6c6c6c" stroke-width="2.4"/><text x="108" y="345.5" text-anchor="end" class="tk">800</text><line x1="119" y1="214.4" x2="128.8" y2="214.4" stroke="#6c6c6c" stroke-width="2.4"/><text x="108" y="222.8" text-anchor="end" class="tk">1000</text><line x1="119" y1="91.7" x2="128.8" y2="91.7" stroke="#6c6c6c" stroke-width="2.4"/><text x="108" y="100.1" text-anchor="end" class="tk">1200</text>
<line x1="128.5" y1="705.1" x2="128.5" y2="714.1" stroke="#6c6c6c" stroke-width="2.4"/><text x="126.5" y="747.1" text-anchor="middle" class="tk">-12 000</text><line x1="253.4" y1="705.1" x2="253.4" y2="714.1" stroke="#6c6c6c" stroke-width="2.4"/><text x="251.4" y="747.1" text-anchor="middle" class="tk">-10 000</text><line x1="378.3" y1="705.1" x2="378.3" y2="714.1" stroke="#6c6c6c" stroke-width="2.4"/><text x="378.3" y="747.1" text-anchor="middle" class="tk">-8000</text><line x1="503.2" y1="705.1" x2="503.2" y2="714.1" stroke="#6c6c6c" stroke-width="2.4"/><text x="503.2" y="747.1" text-anchor="middle" class="tk">-6000</text><line x1="628.1" y1="705.1" x2="628.1" y2="714.1" stroke="#6c6c6c" stroke-width="2.4"/><text x="628.1" y="747.1" text-anchor="middle" class="tk">-4000</text><line x1="753.0" y1="705.1" x2="753.0" y2="714.1" stroke="#6c6c6c" stroke-width="2.4"/><text x="753.0" y="747.1" text-anchor="middle" class="tk">-2000</text><line x1="877.9" y1="705.1" x2="877.9" y2="714.1" stroke="#6c6c6c" stroke-width="2.4"/><text x="877.9" y="747.1" text-anchor="middle" class="tk">0</text>
<text x="136.3" y="124.2" class="lab" style="font-size:27px" textLength="8.66" lengthAdjust="spacingAndGlyphs">(</text><text x="145" y="124.6" class="lab" style="font-size:24px">a</text><text x="159.3" y="124.2" class="lab" style="font-size:27px" textLength="8.66" lengthAdjust="spacingAndGlyphs">)</text>
<text x="501.8" y="800.5" class="axt" textLength="116" lengthAdjust="spacingAndGlyphs">BP TIME</text>
<text transform="translate(27.8,527.8) rotate(-90)" class="axt" textLength="260" lengthAdjust="spacingAndGlyphs">Precipitation, mm/yr</text>

<rect x="129.2" y="814.4" width="824.5" height="87.9" fill="none" stroke="#404040" stroke-width="2.4"/>
<line x1="145.5" y1="844.9" x2="199.8" y2="844.9" stroke="#000" stroke-width="4" stroke-linecap="round"/>
<rect x="145.8" y="864.4" width="53.4" height="18.2" rx="1" fill="#dedede" stroke="#626262" stroke-width="2"/>
<text x="212.5" y="852.9" class="leg">BP Time vs Precipitation, 11.5K_Standard</text>
<text x="212.5" y="879.9" class="leg">BP Time vs range between 1000 yr maximum and minimum values</text>

<!-- RIGHT -->
<path d="M1264.0,416.6 L1265.6,414.1 L1266.9,411.9 L1268.5,409.0 L1270.2,405.8 L1272.0,402.4 L1274.0,399.0 L1276.1,396.0 L1278.2,393.3 L1280.4,391.2 L1282.6,389.6 L1285.0,388.7 L1287.5,388.0 L1290.2,387.5 L1292.9,387.2 L1295.7,387.5 L1298.5,387.9 L1301.3,388.1 L1304.0,387.6 L1306.6,387.0 L1309.1,386.2 L1311.7,385.7 L1314.2,385.3 L1316.7,385.3 L1319.1,385.2 L1321.5,384.8 L1323.9,384.2 L1326.1,383.5 L1328.2,383.2 L1330.3,383.0 L1333.0,383.0 L1335.3,383.2 L1337.3,383.7 L1339.8,384.5 L1342.3,385.0 L1344.3,385.0 L1346.5,384.3 L1348.6,383.3 L1350.7,381.6 L1352.9,379.7 L1354.4,377.9 L1356.1,376.2 L1357.8,374.7 L1359.8,373.4 L1361.9,372.1 L1364.2,370.4 L1366.8,368.2 L1369.5,365.6 L1372.3,363.0 L1375.1,360.7 L1378.0,358.5 L1380.8,356.1 L1383.5,353.8 L1386.1,352.3 L1388.5,351.4 L1390.8,351.4 L1393.1,351.3 L1395.3,351.5 L1397.5,351.1 L1399.6,351.0 L1401.6,350.8 L1403.6,350.9 L1406.5,350.8 L1409.3,350.3 L1411.9,349.8 L1414.3,349.1 L1416.7,347.9 L1418.9,346.6 L1421.2,345.3 L1423.5,345.2 L1425.9,345.8 L1428.1,347.3 L1430.3,348.3 L1432.5,348.9 L1434.8,349.5 L1437.4,350.4 L1440.2,351.4 L1442.3,351.8 L1444.4,352.3 L1446.7,352.7 L1449.1,353.4 L1451.5,353.6 L1454.0,353.6 L1456.6,353.5 L1459.2,353.2 L1461.8,352.6 L1464.5,351.6 L1467.3,350.5 L1470.2,349.5 L1473.2,348.5 L1476.4,347.4 L1479.5,345.9 L1482.6,344.4 L1485.6,342.9 L1488.4,341.9 L1491.1,341.1 L1493.5,340.4 L1495.6,340.1 L1498.4,340.2 L1500.9,340.6 L1503.1,340.9 L1505.2,341.0 L1507.5,341.1 L1510.0,341.5 L1512.6,341.2 L1515.0,340.8 L1517.5,339.7 L1520.2,339.0 L1523.2,338.2 L1525.4,338.1 L1527.9,338.2 L1530.8,339.0 L1533.9,340.0 L1537.5,341.1 L1539.3,341.7 L1541.2,343.1 L1543.1,344.7 L1545.1,346.2 L1547.1,347.1 L1549.1,348.3 L1551.1,349.5 L1553.1,350.4 L1555.1,350.8 L1557.0,351.1 L1559.0,351.7 L1560.8,352.6 L1564.4,353.8 L1567.7,354.5 L1571.0,355.1 L1574.3,355.6 L1577.5,355.7 L1580.6,355.4 L1583.7,355.1 L1586.5,355.0 L1589.3,355.4 L1591.8,355.5 L1594.1,355.5 L1596.1,355.3 L1598.4,355.4 L1600.5,355.9 L1602.6,356.6 L1605.2,356.5 L1607.5,355.5 L1610.4,353.9 L1612.4,352.7 L1614.6,352.0 L1616.8,351.1 L1619.1,350.0 L1621.4,349.0 L1623.6,348.7 L1625.9,348.7 L1628.0,348.8 L1630.1,349.2 L1632.2,350.2 L1634.4,351.8 L1636.5,353.6 L1638.6,355.1 L1640.7,356.2 L1642.8,357.1 L1644.8,358.2 L1646.7,359.3 L1649.4,360.2 L1651.7,359.8 L1653.9,358.6 L1655.9,356.9 L1658.0,355.5 L1660.2,354.3 L1662.8,353.8 L1665.7,354.3 L1667.9,355.3 L1670.2,356.9 L1672.6,358.8 L1675.1,361.0 L1677.6,362.7 L1680.1,364.1 L1682.6,364.8 L1685.1,365.3 L1687.4,365.2 L1689.7,365.2 L1692.0,364.2 L1694.3,362.9 L1696.6,360.7 L1698.9,358.5 L1701.2,356.3 L1703.3,354.5 L1705.5,353.2 L1707.5,352.3 L1710.3,352.1 L1712.9,353.6 L1714.4,355.7 L1715.9,358.4 L1717.4,361.3 L1718.8,363.6 L1720.2,365.6 L1721.6,367.2 L1723.1,368.7 L1725.5,369.5 L1728.0,368.9 L1729.7,367.9 L1731.3,366.4 L1733.0,364.5 L1734.8,362.1 L1736.5,360.3 L1738.2,358.9 L1740.8,358.2 L1743.3,358.5 L1745.8,359.6 L1748.4,361.2 L1750.0,362.3 L1751.7,363.3 L1753.4,363.9 L1756.0,364.9 L1758.5,365.3 L1761.0,365.3 L1763.5,364.3 L1766.0,363.0 L1768.5,361.5 L1771.1,360.2 L1773.7,358.7 L1776.4,357.5 L1778.4,356.9 L1780.5,356.6 L1782.6,356.5 L1784.8,356.3 L1786.9,355.8 L1789.0,355.3 L1791.9,354.9 L1794.5,355.0 L1796.5,355.3 L1798.4,356.1 L1800.1,357.4 L1801.8,358.6 L1804.3,358.9 L1806.2,358.4 L1808.4,357.0 L1810.6,355.3 L1813.0,353.6 L1815.2,352.4 L1817.4,351.5 L1819.4,351.7 L1821.3,352.7 L1823.1,354.3 L1824.9,355.9 L1826.7,357.0 L1828.7,357.6 L1830.8,357.5 L1833.2,356.3 L1834.9,355.4 L1836.7,354.2 L1838.6,353.1 L1840.4,351.7 L1842.2,350.5 L1844.0,349.2 L1846.3,347.8 L1848.3,347.2 L1850.2,348.0 L1851.5,349.8 L1852.4,351.4 L1853.9,353.2 L1856.2,354.1 L1858.6,353.8 L1860.5,353.0 L1862.6,352.0 L1864.7,350.7 L1867.0,349.7 L1869.1,349.0 L1871.2,348.4 L1873.2,347.7 L1875.7,346.9 L1877.7,346.9 L1879.8,347.6 L1881.6,348.6 L1883.3,349.8 L1885.2,351.0 L1887.5,352.2 L1889.9,353.1 L1892.3,354.2 L1894.3,354.6 L1896.3,355.1 L1898.5,354.6 L1901.0,353.9 L1903.8,352.9 L1905.8,352.5 L1907.8,352.1 L1909.7,351.3 L1912.3,350.3 L1914.5,349.2" fill="none" stroke="#000" stroke-width="16" stroke-linecap="round" stroke-linejoin="round"/>
<path d="M1265.3,221.0 L1266.8,219.3 L1268.3,217.6 L1269.8,215.9 L1271.3,214.3 L1272.8,212.6 L1274.3,210.9 L1275.8,209.3 L1277.3,207.6 L1278.9,206.0 L1280.4,204.3 L1281.9,202.7 L1283.4,201.1 L1284.9,199.5 L1286.4,197.9 L1287.9,196.4 L1289.4,194.8 L1290.9,193.3 L1292.4,191.8 L1293.9,190.3 L1295.4,188.9 L1296.9,187.4 L1298.4,186.0 L1299.9,184.6 L1301.4,183.3 L1303.0,181.9 L1304.5,180.6 L1306.0,179.4 L1307.5,178.2 L1309.0,177.0 L1310.5,175.8 L1312.0,174.7 L1313.5,173.6 L1315.0,172.6 L1316.5,171.6 L1318.0,170.7 L1319.5,169.8 L1321.0,169.0 L1322.5,168.2 L1324.0,167.5 L1325.5,166.8 L1327.0,166.2 L1328.6,165.7 L1330.1,165.2 L1331.6,164.8 L1333.1,164.4 L1334.6,164.1 L1336.1,163.8 L1337.6,163.5 L1339.1,163.4 L1340.6,163.2 L1342.1,163.1 L1343.6,163.0 L1345.1,163.0 L1346.6,163.0 L1348.1,163.0 L1349.6,163.1 L1351.1,163.1 L1352.7,163.2 L1354.2,163.3 L1355.7,163.5 L1357.2,163.6 L1358.7,163.8 L1360.2,163.9 L1361.7,164.1 L1363.2,164.3 L1364.7,164.5 L1366.2,164.7 L1367.7,164.8 L1369.2,165.0 L1370.7,165.2 L1372.2,165.3 L1373.7,165.5 L1375.2,165.6 L1376.8,165.7 L1378.3,165.8 L1379.8,165.9 L1381.3,165.9 L1382.8,166.0 L1384.3,166.0 L1385.8,165.9 L1387.3,165.8 L1388.8,165.7 L1390.3,165.6 L1391.8,165.4 L1393.3,165.2 L1394.8,165.0 L1396.3,164.7 L1397.8,164.4 L1399.3,164.1 L1400.8,163.7 L1402.4,163.4 L1403.9,163.0 L1405.4,162.6 L1406.9,162.2 L1408.4,161.8 L1409.9,161.4 L1411.4,161.0 L1412.9,160.6 L1414.4,160.1 L1415.9,159.7 L1417.4,159.3 L1418.9,158.9 L1420.4,158.5 L1421.9,158.1 L1423.4,157.8 L1424.9,157.4 L1426.5,157.1 L1428.0,156.8 L1429.5,156.5 L1431.0,156.2 L1432.5,156.0 L1434.0,155.8 L1435.5,155.6 L1437.0,155.5 L1438.5,155.4 L1440.0,155.3 L1441.5,155.3 L1443.0,155.4 L1444.5,155.5 L1446.0,155.6 L1447.5,155.9 L1449.0,156.2 L1450.5,156.6 L1452.1,157.0 L1453.6,157.5 L1455.1,158.1 L1456.6,158.8 L1458.1,159.5 L1459.6,160.2 L1461.1,161.0 L1462.6,161.9 L1464.1,162.8 L1465.6,163.7 L1467.1,164.7 L1468.6,165.7 L1470.1,166.7 L1471.6,167.7 L1473.1,168.8 L1474.6,169.9 L1476.2,171.0 L1477.7,172.0 L1479.2,173.1 L1480.7,174.2 L1482.2,175.2 L1483.7,176.3 L1485.2,177.3 L1486.7,178.3 L1488.2,179.3 L1489.7,180.3 L1491.2,181.2 L1492.7,182.1 L1494.2,182.9 L1495.7,183.7 L1497.2,184.4 L1498.7,185.1 L1500.2,185.7 L1501.8,186.3 L1503.3,186.8 L1504.8,187.2 L1506.3,187.5 L1507.8,187.8 L1509.3,187.9 L1510.8,188.0 L1512.3,188.0 L1513.8,187.9 L1515.3,187.7 L1516.8,187.4 L1518.3,187.0 L1519.8,186.6 L1521.3,186.0 L1522.8,185.5 L1524.3,184.8 L1525.9,184.1 L1527.4,183.4 L1528.9,182.6 L1530.4,181.7 L1531.9,180.8 L1533.4,179.9 L1534.9,179.0 L1536.4,178.0 L1537.9,177.1 L1539.4,176.1 L1540.9,175.1 L1542.4,174.1 L1543.9,173.1 L1545.4,172.1 L1546.9,171.1 L1548.4,170.1 L1549.9,169.2 L1551.5,168.3 L1553.0,167.4 L1554.5,166.5 L1556.0,165.7 L1557.5,165.0 L1559.0,164.3 L1560.5,163.6 L1562.0,163.0 L1563.5,162.5 L1565.0,162.0 L1566.5,161.6 L1568.0,161.3 L1569.5,161.1 L1571.0,161.0 L1572.5,160.9 L1574.0,161.0 L1575.6,161.1 L1577.1,161.4 L1578.6,161.8 L1580.1,162.2 L1581.6,162.7 L1583.1,163.3 L1584.6,164.0 L1586.1,164.8 L1587.6,165.6 L1589.1,166.5 L1590.6,167.4 L1592.1,168.3 L1593.6,169.4 L1595.1,170.4 L1596.6,171.4 L1598.1,172.5 L1599.7,173.6 L1601.2,174.7 L1602.7,175.8 L1604.2,176.8 L1605.7,177.9 L1607.2,178.9 L1608.7,179.9 L1610.2,180.8 L1611.7,181.7 L1613.2,182.5 L1614.7,183.3 L1616.2,184.0 L1617.7,184.6 L1619.2,185.1 L1620.7,185.5 L1622.2,185.9 L1623.7,186.1 L1625.3,186.2 L1626.8,186.2 L1628.3,186.0 L1629.8,185.8 L1631.3,185.3 L1632.8,184.8 L1634.3,184.1 L1635.8,183.2 L1637.3,182.3 L1638.8,181.2 L1640.3,180.0 L1641.8,178.8 L1643.3,177.4 L1644.8,175.9 L1646.3,174.4 L1647.8,172.8 L1649.4,171.1 L1650.9,169.3 L1652.4,167.5 L1653.9,165.7 L1655.4,163.8 L1656.9,161.9 L1658.4,159.9 L1659.9,157.9 L1661.4,155.9 L1662.9,153.9 L1664.4,151.9 L1665.9,149.9 L1667.4,147.9 L1668.9,145.9 L1670.4,143.9 L1671.9,142.0 L1673.4,140.1 L1675.0,138.2 L1676.5,136.4 L1678.0,134.7 L1679.5,133.0 L1681.0,131.4 L1682.5,129.8 L1684.0,128.3 L1685.5,127.0 L1687.0,125.7 L1688.5,124.5 L1690.0,123.4 L1691.5,122.5 L1693.0,121.6 L1694.5,120.9 L1696.0,120.3 L1697.5,119.9 L1699.1,119.6 L1700.6,119.4 L1702.1,119.4 L1703.6,119.6 L1705.1,119.9 L1706.6,120.3 L1708.1,120.9 L1709.6,121.5 L1711.1,122.3 L1712.6,123.2 L1714.1,124.2 L1715.6,125.3 L1717.1,126.4 L1718.6,127.7 L1720.1,129.0 L1721.6,130.3 L1723.1,131.8 L1724.7,133.3 L1726.2,134.8 L1727.7,136.3 L1729.2,137.9 L1730.7,139.5 L1732.2,141.2 L1733.7,142.8 L1735.2,144.5 L1736.7,146.1 L1738.2,147.7 L1739.7,149.4 L1741.2,150.9 L1742.7,152.5 L1744.2,154.0 L1745.7,155.5 L1747.2,156.9 L1748.8,158.3 L1750.3,159.6 L1751.8,160.9 L1753.3,162.0 L1754.8,163.1 L1756.3,164.1 L1757.8,165.0 L1759.3,165.7 L1760.8,166.4 L1762.3,167.0 L1763.8,167.4 L1765.3,167.7 L1766.8,167.9 L1768.3,168.0 L1769.8,167.9 L1771.3,167.8 L1772.8,167.6 L1774.4,167.3 L1775.9,166.8 L1777.4,166.4 L1778.9,165.8 L1780.4,165.1 L1781.9,164.4 L1783.4,163.6 L1784.9,162.8 L1786.4,161.9 L1787.9,160.9 L1789.4,159.9 L1790.9,158.9 L1792.4,157.8 L1793.9,156.7 L1795.4,155.5 L1796.9,154.3 L1798.5,153.2 L1800.0,151.9 L1801.5,150.7 L1803.0,149.5 L1804.5,148.3 L1806.0,147.1 L1807.5,145.9 L1809.0,144.7 L1810.5,143.5 L1812.0,142.3 L1813.5,141.2 L1815.0,140.1 L1816.5,139.0 L1818.0,138.0 L1819.5,137.0 L1821.0,136.1 L1822.6,135.2 L1824.1,134.4 L1825.6,133.6 L1827.1,132.9 L1828.6,132.3 L1830.1,131.8 L1831.6,131.3 L1833.1,130.9 L1834.6,130.6 L1836.1,130.4 L1837.6,130.3 L1839.1,130.2 L1840.6,130.2 L1842.1,130.2 L1843.6,130.4 L1845.1,130.5 L1846.6,130.8 L1848.2,131.1 L1849.7,131.4 L1851.2,131.9 L1852.7,132.3 L1854.2,132.8 L1855.7,133.4 L1857.2,134.0 L1858.7,134.6 L1860.2,135.3 L1861.7,136.0 L1863.2,136.8 L1864.7,137.5 L1866.2,138.4 L1867.7,139.2 L1869.2,140.1 L1870.7,141.0 L1872.3,141.9 L1873.8,142.8 L1875.3,143.7 L1876.8,144.7 L1878.3,145.7 L1879.8,146.6 L1881.3,147.6 L1882.8,148.6 L1884.3,149.6 L1884.3,573.1 L1882.8,574.0 L1881.3,574.9 L1879.8,575.8 L1878.3,576.7 L1876.8,577.6 L1875.3,578.5 L1873.8,579.3 L1872.3,580.2 L1870.7,581.0 L1869.2,581.8 L1867.7,582.5 L1866.2,583.2 L1864.7,583.9 L1863.2,584.6 L1861.7,585.2 L1860.2,585.7 L1858.7,586.3 L1857.2,586.7 L1855.7,587.1 L1854.2,587.5 L1852.7,587.8 L1851.2,588.0 L1849.7,588.2 L1848.2,588.3 L1846.6,588.3 L1845.1,588.3 L1843.6,588.2 L1842.1,588.0 L1840.6,587.7 L1839.1,587.3 L1837.6,586.9 L1836.1,586.3 L1834.6,585.7 L1833.1,584.9 L1831.6,584.1 L1830.1,583.2 L1828.6,582.2 L1827.1,581.1 L1825.6,579.9 L1824.1,578.6 L1822.6,577.3 L1821.0,575.9 L1819.5,574.5 L1818.0,573.0 L1816.5,571.4 L1815.0,569.8 L1813.5,568.2 L1812.0,566.5 L1810.5,564.8 L1809.0,563.0 L1807.5,561.3 L1806.0,559.5 L1804.5,557.7 L1803.0,555.9 L1801.5,554.0 L1800.0,552.2 L1798.5,550.4 L1796.9,548.6 L1795.4,546.7 L1793.9,545.0 L1792.4,543.2 L1790.9,541.4 L1789.4,539.7 L1787.9,538.0 L1786.4,536.4 L1784.9,534.8 L1783.4,533.2 L1781.9,531.7 L1780.4,530.3 L1778.9,528.9 L1777.4,527.5 L1775.9,526.3 L1774.4,525.1 L1772.8,524.0 L1771.3,523.0 L1769.8,522.0 L1768.3,521.2 L1766.8,520.5 L1765.3,519.8 L1763.8,519.3 L1762.3,518.8 L1760.8,518.5 L1759.3,518.3 L1757.8,518.3 L1756.3,518.3 L1754.8,518.5 L1753.3,518.7 L1751.8,519.1 L1750.3,519.6 L1748.8,520.1 L1747.2,520.8 L1745.7,521.5 L1744.2,522.3 L1742.7,523.2 L1741.2,524.1 L1739.7,525.1 L1738.2,526.2 L1736.7,527.2 L1735.2,528.4 L1733.7,529.5 L1732.2,530.7 L1730.7,531.9 L1729.2,533.2 L1727.7,534.4 L1726.2,535.7 L1724.7,536.9 L1723.1,538.2 L1721.6,539.4 L1720.1,540.6 L1718.6,541.8 L1717.1,543.0 L1715.6,544.1 L1714.1,545.2 L1712.6,546.2 L1711.1,547.2 L1709.6,548.1 L1708.1,549.0 L1706.6,549.8 L1705.1,550.5 L1703.6,551.2 L1702.1,551.7 L1700.6,552.2 L1699.1,552.6 L1697.5,552.8 L1696.0,553.0 L1694.5,553.0 L1693.0,553.0 L1691.5,552.8 L1690.0,552.5 L1688.5,552.2 L1687.0,551.7 L1685.5,551.2 L1684.0,550.6 L1682.5,549.9 L1681.0,549.2 L1679.5,548.3 L1678.0,547.5 L1676.5,546.5 L1675.0,545.6 L1673.4,544.6 L1671.9,543.5 L1670.4,542.4 L1668.9,541.3 L1667.4,540.2 L1665.9,539.1 L1664.4,537.9 L1662.9,536.8 L1661.4,535.6 L1659.9,534.5 L1658.4,533.3 L1656.9,532.2 L1655.4,531.1 L1653.9,530.1 L1652.4,529.0 L1650.9,528.0 L1649.4,527.1 L1647.8,526.2 L1646.3,525.3 L1644.8,524.5 L1643.3,523.8 L1641.8,523.1 L1640.3,522.4 L1638.8,521.9 L1637.3,521.4 L1635.8,520.9 L1634.3,520.5 L1632.8,520.2 L1631.3,519.9 L1629.8,519.7 L1628.3,519.6 L1626.8,519.5 L1625.3,519.5 L1623.7,519.5 L1622.2,519.7 L1620.7,519.8 L1619.2,520.1 L1617.7,520.4 L1616.2,520.7 L1614.7,521.1 L1613.2,521.5 L1611.7,522.0 L1610.2,522.5 L1608.7,523.0 L1607.2,523.6 L1605.7,524.1 L1604.2,524.7 L1602.7,525.4 L1601.2,526.0 L1599.7,526.7 L1598.1,527.3 L1596.6,528.0 L1595.1,528.6 L1593.6,529.3 L1592.1,530.0 L1590.6,530.6 L1589.1,531.2 L1587.6,531.9 L1586.1,532.5 L1584.6,533.0 L1583.1,533.6 L1581.6,534.1 L1580.1,534.6 L1578.6,535.1 L1577.1,535.5 L1575.6,535.8 L1574.0,536.2 L1572.5,536.4 L1571.0,536.7 L1569.5,536.8 L1568.0,537.0 L1566.5,537.0 L1565.0,537.1 L1563.5,537.1 L1562.0,537.1 L1560.5,537.0 L1559.0,536.9 L1557.5,536.8 L1556.0,536.7 L1554.5,536.5 L1553.0,536.3 L1551.5,536.1 L1549.9,535.9 L1548.4,535.7 L1546.9,535.5 L1545.4,535.3 L1543.9,535.1 L1542.4,534.8 L1540.9,534.6 L1539.4,534.4 L1537.9,534.2 L1536.4,534.0 L1534.9,533.8 L1533.4,533.7 L1531.9,533.5 L1530.4,533.4 L1528.9,533.3 L1527.4,533.2 L1525.9,533.2 L1524.3,533.2 L1522.8,533.3 L1521.3,533.4 L1519.8,533.5 L1518.3,533.8 L1516.8,534.1 L1515.3,534.4 L1513.8,534.9 L1512.3,535.4 L1510.8,536.1 L1509.3,536.7 L1507.8,537.5 L1506.3,538.3 L1504.8,539.2 L1503.3,540.2 L1501.8,541.1 L1500.2,542.2 L1498.7,543.2 L1497.2,544.3 L1495.7,545.4 L1494.2,546.6 L1492.7,547.7 L1491.2,548.9 L1489.7,550.1 L1488.2,551.2 L1486.7,552.4 L1485.2,553.6 L1483.7,554.7 L1482.2,555.8 L1480.7,556.9 L1479.2,558.0 L1477.7,559.0 L1476.2,560.0 L1474.6,560.9 L1473.1,561.8 L1471.6,562.6 L1470.1,563.3 L1468.6,564.0 L1467.1,564.6 L1465.6,565.1 L1464.1,565.5 L1462.6,565.9 L1461.1,566.1 L1459.6,566.3 L1458.1,566.3 L1456.6,566.2 L1455.1,566.0 L1453.6,565.7 L1452.1,565.3 L1450.5,564.7 L1449.0,564.1 L1447.5,563.3 L1446.0,562.5 L1444.5,561.6 L1443.0,560.5 L1441.5,559.4 L1440.0,558.3 L1438.5,557.1 L1437.0,555.8 L1435.5,554.5 L1434.0,553.1 L1432.5,551.7 L1431.0,550.2 L1429.5,548.8 L1428.0,547.3 L1426.5,545.8 L1424.9,544.3 L1423.4,542.8 L1421.9,541.3 L1420.4,539.9 L1418.9,538.4 L1417.4,537.0 L1415.9,535.6 L1414.4,534.3 L1412.9,533.0 L1411.4,531.7 L1409.9,530.5 L1408.4,529.4 L1406.9,528.3 L1405.4,527.4 L1403.9,526.5 L1402.4,525.7 L1400.8,525.0 L1399.3,524.4 L1397.8,523.9 L1396.3,523.5 L1394.8,523.3 L1393.3,523.3 L1391.8,523.4 L1390.3,523.8 L1388.8,524.4 L1387.3,525.1 L1385.8,526.1 L1384.3,527.3 L1382.8,528.6 L1381.3,530.1 L1379.8,531.7 L1378.3,533.5 L1376.8,535.4 L1375.2,537.5 L1373.7,539.6 L1372.2,541.9 L1370.7,544.3 L1369.2,546.8 L1367.7,549.3 L1366.2,551.9 L1364.7,554.6 L1363.2,557.4 L1361.7,560.1 L1360.2,563.0 L1358.7,565.8 L1357.2,568.7 L1355.7,571.5 L1354.2,574.4 L1352.7,577.2 L1351.1,580.0 L1349.6,582.8 L1348.1,585.6 L1346.6,588.3 L1345.1,590.9 L1343.6,593.5 L1342.1,596.0 L1340.6,598.4 L1339.1,600.7 L1337.6,602.9 L1336.1,605.0 L1334.6,607.0 L1333.1,608.8 L1331.6,610.5 L1330.1,612.0 L1328.6,613.4 L1327.0,614.6 L1325.5,615.7 L1324.0,616.7 L1322.5,617.5 L1321.0,618.2 L1319.5,618.7 L1318.0,619.2 L1316.5,619.5 L1315.0,619.8 L1313.5,619.9 L1312.0,619.9 L1310.5,619.9 L1309.0,619.7 L1307.5,619.5 L1306.0,619.3 L1304.5,618.9 L1303.0,618.5 L1301.4,618.0 L1299.9,617.4 L1298.4,616.8 L1296.9,616.1 L1295.4,615.4 L1293.9,614.6 L1292.4,613.8 L1290.9,612.9 L1289.4,612.0 L1287.9,611.0 L1286.4,610.0 L1284.9,609.0 L1283.4,607.9 L1281.9,606.8 L1280.4,605.6 L1278.9,604.5 L1277.3,603.3 L1275.8,602.1 L1274.3,600.8 L1272.8,599.6 L1271.3,598.3 L1269.8,597.1 L1268.3,595.8 L1266.8,594.5 L1265.3,593.2 Z" fill="rgba(192,192,192,0.514)" stroke="none"/>
<path d="M1265.3,221.0 L1266.8,219.3 L1268.3,217.6 L1269.8,215.9 L1271.3,214.3 L1272.8,212.6 L1274.3,210.9 L1275.8,209.3 L1277.3,207.6 L1278.9,206.0 L1280.4,204.3 L1281.9,202.7 L1283.4,201.1 L1284.9,199.5 L1286.4,197.9 L1287.9,196.4 L1289.4,194.8 L1290.9,193.3 L1292.4,191.8 L1293.9,190.3 L1295.4,188.9 L1296.9,187.4 L1298.4,186.0 L1299.9,184.6 L1301.4,183.3 L1303.0,181.9 L1304.5,180.6 L1306.0,179.4 L1307.5,178.2 L1309.0,177.0 L1310.5,175.8 L1312.0,174.7 L1313.5,173.6 L1315.0,172.6 L1316.5,171.6 L1318.0,170.7 L1319.5,169.8 L1321.0,169.0 L1322.5,168.2 L1324.0,167.5 L1325.5,166.8 L1327.0,166.2 L1328.6,165.7 L1330.1,165.2 L1331.6,164.8 L1333.1,164.4 L1334.6,164.1 L1336.1,163.8 L1337.6,163.5 L1339.1,163.4 L1340.6,163.2 L1342.1,163.1 L1343.6,163.0 L1345.1,163.0 L1346.6,163.0 L1348.1,163.0 L1349.6,163.1 L1351.1,163.1 L1352.7,163.2 L1354.2,163.3 L1355.7,163.5 L1357.2,163.6 L1358.7,163.8 L1360.2,163.9 L1361.7,164.1 L1363.2,164.3 L1364.7,164.5 L1366.2,164.7 L1367.7,164.8 L1369.2,165.0 L1370.7,165.2 L1372.2,165.3 L1373.7,165.5 L1375.2,165.6 L1376.8,165.7 L1378.3,165.8 L1379.8,165.9 L1381.3,165.9 L1382.8,166.0 L1384.3,166.0 L1385.8,165.9 L1387.3,165.8 L1388.8,165.7 L1390.3,165.6 L1391.8,165.4 L1393.3,165.2 L1394.8,165.0 L1396.3,164.7 L1397.8,164.4 L1399.3,164.1 L1400.8,163.7 L1402.4,163.4 L1403.9,163.0 L1405.4,162.6 L1406.9,162.2 L1408.4,161.8 L1409.9,161.4 L1411.4,161.0 L1412.9,160.6 L1414.4,160.1 L1415.9,159.7 L1417.4,159.3 L1418.9,158.9 L1420.4,158.5 L1421.9,158.1 L1423.4,157.8 L1424.9,157.4 L1426.5,157.1 L1428.0,156.8 L1429.5,156.5 L1431.0,156.2 L1432.5,156.0 L1434.0,155.8 L1435.5,155.6 L1437.0,155.5 L1438.5,155.4 L1440.0,155.3 L1441.5,155.3 L1443.0,155.4 L1444.5,155.5 L1446.0,155.6 L1447.5,155.9 L1449.0,156.2 L1450.5,156.6 L1452.1,157.0 L1453.6,157.5 L1455.1,158.1 L1456.6,158.8 L1458.1,159.5 L1459.6,160.2 L1461.1,161.0 L1462.6,161.9 L1464.1,162.8 L1465.6,163.7 L1467.1,164.7 L1468.6,165.7 L1470.1,166.7 L1471.6,167.7 L1473.1,168.8 L1474.6,169.9 L1476.2,171.0 L1477.7,172.0 L1479.2,173.1 L1480.7,174.2 L1482.2,175.2 L1483.7,176.3 L1485.2,177.3 L1486.7,178.3 L1488.2,179.3 L1489.7,180.3 L1491.2,181.2 L1492.7,182.1 L1494.2,182.9 L1495.7,183.7 L1497.2,184.4 L1498.7,185.1 L1500.2,185.7 L1501.8,186.3 L1503.3,186.8 L1504.8,187.2 L1506.3,187.5 L1507.8,187.8 L1509.3,187.9 L1510.8,188.0 L1512.3,188.0 L1513.8,187.9 L1515.3,187.7 L1516.8,187.4 L1518.3,187.0 L1519.8,186.6 L1521.3,186.0 L1522.8,185.5 L1524.3,184.8 L1525.9,184.1 L1527.4,183.4 L1528.9,182.6 L1530.4,181.7 L1531.9,180.8 L1533.4,179.9 L1534.9,179.0 L1536.4,178.0 L1537.9,177.1 L1539.4,176.1 L1540.9,175.1 L1542.4,174.1 L1543.9,173.1 L1545.4,172.1 L1546.9,171.1 L1548.4,170.1 L1549.9,169.2 L1551.5,168.3 L1553.0,167.4 L1554.5,166.5 L1556.0,165.7 L1557.5,165.0 L1559.0,164.3 L1560.5,163.6 L1562.0,163.0 L1563.5,162.5 L1565.0,162.0 L1566.5,161.6 L1568.0,161.3 L1569.5,161.1 L1571.0,161.0 L1572.5,160.9 L1574.0,161.0 L1575.6,161.1 L1577.1,161.4 L1578.6,161.8 L1580.1,162.2 L1581.6,162.7 L1583.1,163.3 L1584.6,164.0 L1586.1,164.8 L1587.6,165.6 L1589.1,166.5 L1590.6,167.4 L1592.1,168.3 L1593.6,169.4 L1595.1,170.4 L1596.6,171.4 L1598.1,172.5 L1599.7,173.6 L1601.2,174.7 L1602.7,175.8 L1604.2,176.8 L1605.7,177.9 L1607.2,178.9 L1608.7,179.9 L1610.2,180.8 L1611.7,181.7 L1613.2,182.5 L1614.7,183.3 L1616.2,184.0 L1617.7,184.6 L1619.2,185.1 L1620.7,185.5 L1622.2,185.9 L1623.7,186.1 L1625.3,186.2 L1626.8,186.2 L1628.3,186.0 L1629.8,185.8 L1631.3,185.3 L1632.8,184.8 L1634.3,184.1 L1635.8,183.2 L1637.3,182.3 L1638.8,181.2 L1640.3,180.0 L1641.8,178.8 L1643.3,177.4 L1644.8,175.9 L1646.3,174.4 L1647.8,172.8 L1649.4,171.1 L1650.9,169.3 L1652.4,167.5 L1653.9,165.7 L1655.4,163.8 L1656.9,161.9 L1658.4,159.9 L1659.9,157.9 L1661.4,155.9 L1662.9,153.9 L1664.4,151.9 L1665.9,149.9 L1667.4,147.9 L1668.9,145.9 L1670.4,143.9 L1671.9,142.0 L1673.4,140.1 L1675.0,138.2 L1676.5,136.4 L1678.0,134.7 L1679.5,133.0 L1681.0,131.4 L1682.5,129.8 L1684.0,128.3 L1685.5,127.0 L1687.0,125.7 L1688.5,124.5 L1690.0,123.4 L1691.5,122.5 L1693.0,121.6 L1694.5,120.9 L1696.0,120.3 L1697.5,119.9 L1699.1,119.6 L1700.6,119.4 L1702.1,119.4 L1703.6,119.6 L1705.1,119.9 L1706.6,120.3 L1708.1,120.9 L1709.6,121.5 L1711.1,122.3 L1712.6,123.2 L1714.1,124.2 L1715.6,125.3 L1717.1,126.4 L1718.6,127.7 L1720.1,129.0 L1721.6,130.3 L1723.1,131.8 L1724.7,133.3 L1726.2,134.8 L1727.7,136.3 L1729.2,137.9 L1730.7,139.5 L1732.2,141.2 L1733.7,142.8 L1735.2,144.5 L1736.7,146.1 L1738.2,147.7 L1739.7,149.4 L1741.2,150.9 L1742.7,152.5 L1744.2,154.0 L1745.7,155.5 L1747.2,156.9 L1748.8,158.3 L1750.3,159.6 L1751.8,160.9 L1753.3,162.0 L1754.8,163.1 L1756.3,164.1 L1757.8,165.0 L1759.3,165.7 L1760.8,166.4 L1762.3,167.0 L1763.8,167.4 L1765.3,167.7 L1766.8,167.9 L1768.3,168.0 L1769.8,167.9 L1771.3,167.8 L1772.8,167.6 L1774.4,167.3 L1775.9,166.8 L1777.4,166.4 L1778.9,165.8 L1780.4,165.1 L1781.9,164.4 L1783.4,163.6 L1784.9,162.8 L1786.4,161.9 L1787.9,160.9 L1789.4,159.9 L1790.9,158.9 L1792.4,157.8 L1793.9,156.7 L1795.4,155.5 L1796.9,154.3 L1798.5,153.2 L1800.0,151.9 L1801.5,150.7 L1803.0,149.5 L1804.5,148.3 L1806.0,147.1 L1807.5,145.9 L1809.0,144.7 L1810.5,143.5 L1812.0,142.3 L1813.5,141.2 L1815.0,140.1 L1816.5,139.0 L1818.0,138.0 L1819.5,137.0 L1821.0,136.1 L1822.6,135.2 L1824.1,134.4 L1825.6,133.6 L1827.1,132.9 L1828.6,132.3 L1830.1,131.8 L1831.6,131.3 L1833.1,130.9 L1834.6,130.6 L1836.1,130.4 L1837.6,130.3 L1839.1,130.2 L1840.6,130.2 L1842.1,130.2 L1843.6,130.4 L1845.1,130.5 L1846.6,130.8 L1848.2,131.1 L1849.7,131.4 L1851.2,131.9 L1852.7,132.3 L1854.2,132.8 L1855.7,133.4 L1857.2,134.0 L1858.7,134.6 L1860.2,135.3 L1861.7,136.0 L1863.2,136.8 L1864.7,137.5 L1866.2,138.4 L1867.7,139.2 L1869.2,140.1 L1870.7,141.0 L1872.3,141.9 L1873.8,142.8 L1875.3,143.7 L1876.8,144.7 L1878.3,145.7 L1879.8,146.6 L1881.3,147.6 L1882.8,148.6 L1884.3,149.6" fill="none" stroke="#333" stroke-width="1.7"/>
<path d="M1265.3,593.2 L1266.8,594.5 L1268.3,595.8 L1269.8,597.1 L1271.3,598.3 L1272.8,599.6 L1274.3,600.8 L1275.8,602.1 L1277.3,603.3 L1278.9,604.5 L1280.4,605.6 L1281.9,606.8 L1283.4,607.9 L1284.9,609.0 L1286.4,610.0 L1287.9,611.0 L1289.4,612.0 L1290.9,612.9 L1292.4,613.8 L1293.9,614.6 L1295.4,615.4 L1296.9,616.1 L1298.4,616.8 L1299.9,617.4 L1301.4,618.0 L1303.0,618.5 L1304.5,618.9 L1306.0,619.3 L1307.5,619.5 L1309.0,619.7 L1310.5,619.9 L1312.0,619.9 L1313.5,619.9 L1315.0,619.8 L1316.5,619.5 L1318.0,619.2 L1319.5,618.7 L1321.0,618.2 L1322.5,617.5 L1324.0,616.7 L1325.5,615.7 L1327.0,614.6 L1328.6,613.4 L1330.1,612.0 L1331.6,610.5 L1333.1,608.8 L1334.6,607.0 L1336.1,605.0 L1337.6,602.9 L1339.1,600.7 L1340.6,598.4 L1342.1,596.0 L1343.6,593.5 L1345.1,590.9 L1346.6,588.3 L1348.1,585.6 L1349.6,582.8 L1351.1,580.0 L1352.7,577.2 L1354.2,574.4 L1355.7,571.5 L1357.2,568.7 L1358.7,565.8 L1360.2,563.0 L1361.7,560.1 L1363.2,557.4 L1364.7,554.6 L1366.2,551.9 L1367.7,549.3 L1369.2,546.8 L1370.7,544.3 L1372.2,541.9 L1373.7,539.6 L1375.2,537.5 L1376.8,535.4 L1378.3,533.5 L1379.8,531.7 L1381.3,530.1 L1382.8,528.6 L1384.3,527.3 L1385.8,526.1 L1387.3,525.1 L1388.8,524.4 L1390.3,523.8 L1391.8,523.4 L1393.3,523.3 L1394.8,523.3 L1396.3,523.5 L1397.8,523.9 L1399.3,524.4 L1400.8,525.0 L1402.4,525.7 L1403.9,526.5 L1405.4,527.4 L1406.9,528.3 L1408.4,529.4 L1409.9,530.5 L1411.4,531.7 L1412.9,533.0 L1414.4,534.3 L1415.9,535.6 L1417.4,537.0 L1418.9,538.4 L1420.4,539.9 L1421.9,541.3 L1423.4,542.8 L1424.9,544.3 L1426.5,545.8 L1428.0,547.3 L1429.5,548.8 L1431.0,550.2 L1432.5,551.7 L1434.0,553.1 L1435.5,554.5 L1437.0,555.8 L1438.5,557.1 L1440.0,558.3 L1441.5,559.4 L1443.0,560.5 L1444.5,561.6 L1446.0,562.5 L1447.5,563.3 L1449.0,564.1 L1450.5,564.7 L1452.1,565.3 L1453.6,565.7 L1455.1,566.0 L1456.6,566.2 L1458.1,566.3 L1459.6,566.3 L1461.1,566.1 L1462.6,565.9 L1464.1,565.5 L1465.6,565.1 L1467.1,564.6 L1468.6,564.0 L1470.1,563.3 L1471.6,562.6 L1473.1,561.8 L1474.6,560.9 L1476.2,560.0 L1477.7,559.0 L1479.2,558.0 L1480.7,556.9 L1482.2,555.8 L1483.7,554.7 L1485.2,553.6 L1486.7,552.4 L1488.2,551.2 L1489.7,550.1 L1491.2,548.9 L1492.7,547.7 L1494.2,546.6 L1495.7,545.4 L1497.2,544.3 L1498.7,543.2 L1500.2,542.2 L1501.8,541.1 L1503.3,540.2 L1504.8,539.2 L1506.3,538.3 L1507.8,537.5 L1509.3,536.7 L1510.8,536.1 L1512.3,535.4 L1513.8,534.9 L1515.3,534.4 L1516.8,534.1 L1518.3,533.8 L1519.8,533.5 L1521.3,533.4 L1522.8,533.3 L1524.3,533.2 L1525.9,533.2 L1527.4,533.2 L1528.9,533.3 L1530.4,533.4 L1531.9,533.5 L1533.4,533.7 L1534.9,533.8 L1536.4,534.0 L1537.9,534.2 L1539.4,534.4 L1540.9,534.6 L1542.4,534.8 L1543.9,535.1 L1545.4,535.3 L1546.9,535.5 L1548.4,535.7 L1549.9,535.9 L1551.5,536.1 L1553.0,536.3 L1554.5,536.5 L1556.0,536.7 L1557.5,536.8 L1559.0,536.9 L1560.5,537.0 L1562.0,537.1 L1563.5,537.1 L1565.0,537.1 L1566.5,537.0 L1568.0,537.0 L1569.5,536.8 L1571.0,536.7 L1572.5,536.4 L1574.0,536.2 L1575.6,535.8 L1577.1,535.5 L1578.6,535.1 L1580.1,534.6 L1581.6,534.1 L1583.1,533.6 L1584.6,533.0 L1586.1,532.5 L1587.6,531.9 L1589.1,531.2 L1590.6,530.6 L1592.1,530.0 L1593.6,529.3 L1595.1,528.6 L1596.6,528.0 L1598.1,527.3 L1599.7,526.7 L1601.2,526.0 L1602.7,525.4 L1604.2,524.7 L1605.7,524.1 L1607.2,523.6 L1608.7,523.0 L1610.2,522.5 L1611.7,522.0 L1613.2,521.5 L1614.7,521.1 L1616.2,520.7 L1617.7,520.4 L1619.2,520.1 L1620.7,519.8 L1622.2,519.7 L1623.7,519.5 L1625.3,519.5 L1626.8,519.5 L1628.3,519.6 L1629.8,519.7 L1631.3,519.9 L1632.8,520.2 L1634.3,520.5 L1635.8,520.9 L1637.3,521.4 L1638.8,521.9 L1640.3,522.4 L1641.8,523.1 L1643.3,523.8 L1644.8,524.5 L1646.3,525.3 L1647.8,526.2 L1649.4,527.1 L1650.9,528.0 L1652.4,529.0 L1653.9,530.1 L1655.4,531.1 L1656.9,532.2 L1658.4,533.3 L1659.9,534.5 L1661.4,535.6 L1662.9,536.8 L1664.4,537.9 L1665.9,539.1 L1667.4,540.2 L1668.9,541.3 L1670.4,542.4 L1671.9,543.5 L1673.4,544.6 L1675.0,545.6 L1676.5,546.5 L1678.0,547.5 L1679.5,548.3 L1681.0,549.2 L1682.5,549.9 L1684.0,550.6 L1685.5,551.2 L1687.0,551.7 L1688.5,552.2 L1690.0,552.5 L1691.5,552.8 L1693.0,553.0 L1694.5,553.0 L1696.0,553.0 L1697.5,552.8 L1699.1,552.6 L1700.6,552.2 L1702.1,551.7 L1703.6,551.2 L1705.1,550.5 L1706.6,549.8 L1708.1,549.0 L1709.6,548.1 L1711.1,547.2 L1712.6,546.2 L1714.1,545.2 L1715.6,544.1 L1717.1,543.0 L1718.6,541.8 L1720.1,540.6 L1721.6,539.4 L1723.1,538.2 L1724.7,536.9 L1726.2,535.7 L1727.7,534.4 L1729.2,533.2 L1730.7,531.9 L1732.2,530.7 L1733.7,529.5 L1735.2,528.4 L1736.7,527.2 L1738.2,526.2 L1739.7,525.1 L1741.2,524.1 L1742.7,523.2 L1744.2,522.3 L1745.7,521.5 L1747.2,520.8 L1748.8,520.1 L1750.3,519.6 L1751.8,519.1 L1753.3,518.7 L1754.8,518.5 L1756.3,518.3 L1757.8,518.3 L1759.3,518.3 L1760.8,518.5 L1762.3,518.8 L1763.8,519.3 L1765.3,519.8 L1766.8,520.5 L1768.3,521.2 L1769.8,522.0 L1771.3,523.0 L1772.8,524.0 L1774.4,525.1 L1775.9,526.3 L1777.4,527.5 L1778.9,528.9 L1780.4,530.3 L1781.9,531.7 L1783.4,533.2 L1784.9,534.8 L1786.4,536.4 L1787.9,538.0 L1789.4,539.7 L1790.9,541.4 L1792.4,543.2 L1793.9,545.0 L1795.4,546.7 L1796.9,548.6 L1798.5,550.4 L1800.0,552.2 L1801.5,554.0 L1803.0,555.9 L1804.5,557.7 L1806.0,559.5 L1807.5,561.3 L1809.0,563.0 L1810.5,564.8 L1812.0,566.5 L1813.5,568.2 L1815.0,569.8 L1816.5,571.4 L1818.0,573.0 L1819.5,574.5 L1821.0,575.9 L1822.6,577.3 L1824.1,578.6 L1825.6,579.9 L1827.1,581.1 L1828.6,582.2 L1830.1,583.2 L1831.6,584.1 L1833.1,584.9 L1834.6,585.7 L1836.1,586.3 L1837.6,586.9 L1839.1,587.3 L1840.6,587.7 L1842.1,588.0 L1843.6,588.2 L1845.1,588.3 L1846.6,588.3 L1848.2,588.3 L1849.7,588.2 L1851.2,588.0 L1852.7,587.8 L1854.2,587.5 L1855.7,587.1 L1857.2,586.7 L1858.7,586.3 L1860.2,585.7 L1861.7,585.2 L1863.2,584.6 L1864.7,583.9 L1866.2,583.2 L1867.7,582.5 L1869.2,581.8 L1870.7,581.0 L1872.3,580.2 L1873.8,579.3 L1875.3,578.5 L1876.8,577.6 L1878.3,576.7 L1879.8,575.8 L1881.3,574.9 L1882.8,574.0 L1884.3,573.1" fill="none" stroke="#333" stroke-width="1.7"/>
<path d="M1327.1,565.6 L1328.2,563.8 L1329.3,562.0 L1330.4,560.3 L1331.6,558.5 L1332.7,556.7 L1333.8,555.0 L1334.9,553.2 L1336.0,551.5 L1337.1,549.8 L1338.3,548.1 L1339.4,546.4 L1340.5,544.7 L1341.6,543.0 L1342.7,541.4 L1343.8,539.8 L1345.0,538.2 L1346.1,536.6 L1347.2,535.1 L1348.3,533.5 L1349.4,532.1 L1350.5,530.6 L1351.7,529.2 L1352.8,527.8 L1353.9,526.4 L1355.0,525.1 L1356.1,523.8 L1357.2,522.6 L1358.4,521.4 L1359.5,520.2 L1360.6,519.1 L1361.7,518.1 L1362.8,517.1 L1363.9,516.1 L1365.1,515.2 L1366.2,514.3 L1367.3,513.5 L1368.4,512.7 L1369.5,512.1 L1370.6,511.4 L1371.8,510.8 L1372.9,510.3 L1374.0,509.9 L1375.1,509.5 L1376.2,509.2 L1377.3,508.9 L1378.5,508.7 L1379.6,508.6 L1380.7,508.6 L1381.8,508.6 L1382.9,508.7 L1384.0,508.9 L1385.2,509.1 L1386.3,509.5 L1387.4,509.9 L1388.5,510.4 L1389.6,511.0 L1390.7,511.7 L1391.9,512.4 L1393.0,513.3 L1394.1,514.2 L1395.2,515.2 L1396.3,516.2 L1397.4,517.3 L1398.6,518.5 L1399.7,519.8 L1400.8,521.1 L1401.9,522.4 L1403.0,523.9 L1404.1,525.3 L1405.3,526.9 L1406.4,528.4 L1407.5,530.1 L1408.6,531.7 L1409.7,533.4 L1410.8,535.1 L1412.0,536.9 L1413.1,538.7 L1414.2,540.6 L1415.3,542.4 L1416.4,544.3 L1417.5,546.2 L1418.7,548.1 L1419.8,550.1 L1420.9,552.0 L1422.0,554.0 L1423.1,556.0 L1424.2,557.9 L1425.4,559.9 L1426.5,561.9 L1427.6,563.9 L1428.7,565.9 L1429.8,567.8 L1430.9,569.8 L1432.1,571.7 L1433.2,573.7 L1434.3,575.6 L1435.4,577.5 L1436.5,579.4 L1437.6,581.2 L1438.8,583.0 L1439.9,584.8 L1441.0,586.6 L1442.1,588.3 L1443.2,590.0 L1444.3,591.6 L1445.5,593.3 L1446.6,594.8 L1447.7,596.3 L1448.8,597.8 L1449.9,599.2 L1451.0,600.5 L1452.2,601.8 L1453.3,603.1 L1454.4,604.2 L1455.5,605.4 L1456.6,606.4 L1457.7,607.5 L1458.9,608.4 L1460.0,609.3 L1461.1,610.2 L1462.2,611.0 L1463.3,611.8 L1464.4,612.5 L1465.6,613.2 L1466.7,613.8 L1467.8,614.4 L1468.9,614.9 L1470.0,615.4 L1471.1,615.9 L1472.3,616.3 L1473.4,616.7 L1474.5,617.0 L1475.6,617.3 L1476.7,617.5 L1477.8,617.8 L1479.0,617.9 L1480.1,618.1 L1481.2,618.2 L1482.3,618.3 L1483.4,618.3 L1484.5,618.3 L1485.7,618.3 L1486.8,618.2 L1487.9,618.2 L1489.0,618.1 L1490.1,617.9 L1491.2,617.7 L1492.4,617.6 L1493.5,617.3 L1494.6,617.1 L1495.7,616.8 L1496.8,616.5 L1497.9,616.2 L1499.1,615.9 L1500.2,615.5 L1501.3,615.2 L1502.4,614.8 L1503.5,614.4 L1504.6,613.9 L1505.8,613.5 L1506.9,613.0 L1508.0,612.6 L1509.1,612.1 L1510.2,611.6 L1511.3,611.1 L1512.5,610.6 L1513.6,610.0 L1514.7,609.5 L1515.8,608.9 L1516.9,608.4 L1518.0,607.8 L1519.2,607.3 L1520.3,606.7 L1521.4,606.1 L1522.5,605.5 L1523.6,604.9 L1524.7,604.3 L1525.9,603.7 L1527.0,603.0 L1528.1,602.4 L1529.2,601.8 L1530.3,601.1 L1531.4,600.5 L1532.6,599.9 L1533.7,599.2 L1534.8,598.5 L1535.9,597.9 L1537.0,597.2 L1538.1,596.6 L1539.3,595.9 L1540.4,595.2 L1541.5,594.6 L1542.6,593.9 L1543.7,593.2 L1544.8,592.6 L1546.0,591.9 L1547.1,591.2 L1548.2,590.6 L1549.3,589.9 L1550.4,589.2 L1551.5,588.6 L1552.7,587.9 L1553.8,587.2 L1554.9,586.6 L1556.0,585.9 L1557.1,585.3 L1558.2,584.6 L1559.4,584.0 L1560.5,583.3 L1561.6,582.7 L1562.7,582.1 L1563.8,581.4 L1564.9,580.8 L1566.1,580.2 L1567.2,579.6 L1568.3,579.0 L1569.4,578.4 L1570.5,577.8 L1571.6,577.2 L1572.8,576.7 L1573.9,576.1 L1575.0,575.6 L1576.1,575.0 L1577.2,574.5 L1578.3,573.9 L1579.5,573.4 L1580.6,572.9 L1581.7,572.4 L1582.8,571.9 L1583.9,571.3 L1585.0,570.8 L1586.2,570.3 L1587.3,569.8 L1588.4,569.2 L1589.5,568.7 L1590.6,568.1 L1591.7,567.6 L1592.9,567.0 L1594.0,566.5 L1595.1,565.9 L1596.2,565.3 L1597.3,564.6 L1598.4,564.0 L1599.6,563.4 L1600.7,562.7 L1601.8,562.0 L1602.9,561.3 L1604.0,560.6 L1605.1,559.8 L1606.3,559.0 L1607.4,558.2 L1608.5,557.4 L1609.6,556.5 L1610.7,555.7 L1611.8,554.7 L1613.0,553.8 L1614.1,552.8 L1615.2,551.8 L1616.3,550.7 L1617.4,549.6 L1618.5,548.5 L1619.7,547.3 L1620.8,546.1 L1621.9,544.9 L1623.0,543.6 L1624.1,542.2 L1625.2,540.8 L1626.4,539.4 L1627.5,537.9 L1628.6,536.4 L1629.7,534.8 L1630.8,533.2 L1631.9,531.5 L1633.1,529.7 L1634.2,528.0 L1635.3,526.1 L1636.4,524.2 L1637.5,522.2 L1638.6,520.2 L1639.8,518.1 L1640.9,516.0 L1642.0,513.8 L1643.1,511.5 L1644.2,509.3 L1645.3,506.9 L1646.5,504.6 L1647.6,502.2 L1648.7,499.8 L1649.8,497.3 L1650.9,494.8 L1652.0,492.3 L1653.2,489.7 L1654.3,487.2 L1655.4,484.6 L1656.5,482.0 L1657.6,479.4 L1658.7,476.8 L1659.9,474.1 L1661.0,471.5 L1662.1,468.9 L1663.2,466.2 L1664.3,463.6 L1665.4,460.9 L1666.6,458.3 L1667.7,455.7 L1668.8,453.1 L1669.9,450.5 L1671.0,447.9 L1672.1,445.4 L1673.3,442.9 L1674.4,440.4 L1675.5,437.9 L1676.6,435.4 L1677.7,433.0 L1678.8,430.7 L1680.0,428.3 L1681.1,426.0 L1682.2,423.8 L1683.3,421.6 L1684.4,419.5 L1685.5,417.4 L1686.7,415.3 L1687.8,413.3 L1688.9,411.4 L1690.0,409.5 L1691.1,407.7 L1692.2,406.0 L1693.4,404.3 L1694.5,402.8 L1695.6,401.2 L1696.7,399.8 L1697.8,398.5 L1698.9,397.2 L1700.1,396.0 L1701.2,394.9 L1702.3,393.9 L1703.4,392.9 L1704.5,392.1 L1705.6,391.3 L1706.8,390.5 L1707.9,389.9 L1709.0,389.3 L1710.1,388.8 L1711.2,388.3 L1712.3,388.0 L1713.5,387.6 L1714.6,387.4 L1715.7,387.2 L1716.8,387.0 L1717.9,387.0 L1719.0,386.9 L1720.2,386.9 L1721.3,387.0 L1722.4,387.1 L1723.5,387.3 L1724.6,387.5 L1725.7,387.8 L1726.9,388.1 L1728.0,388.4 L1729.1,388.8 L1730.2,389.2 L1731.3,389.7 L1732.4,390.2 L1733.6,390.7 L1734.7,391.2 L1735.8,391.8 L1736.9,392.4 L1738.0,393.0 L1739.1,393.7 L1740.3,394.3 L1741.4,395.0 L1742.5,395.7 L1743.6,396.5 L1744.7,397.2 L1745.8,397.9 L1747.0,398.7 L1748.1,399.5 L1749.2,400.2 L1750.3,401.0 L1751.4,401.8 L1752.5,402.6 L1753.7,403.4 L1754.8,404.2 L1755.9,405.0 L1757.0,405.8 L1758.1,406.5 L1759.2,407.3 L1760.4,408.1 L1761.5,408.8 L1762.6,409.5 L1763.7,410.3 L1764.8,411.0 L1765.9,411.7 L1767.1,412.4 L1768.2,413.0 L1769.3,413.7 L1770.4,414.3 L1771.5,415.0 L1772.6,415.6 L1773.8,416.2 L1774.9,416.8 L1776.0,417.4 L1777.1,417.9 L1778.2,418.5 L1779.3,419.0 L1780.5,419.6 L1781.6,420.1 L1782.7,420.6 L1783.8,421.0 L1784.9,421.5 L1786.0,421.9 L1787.2,422.4 L1788.3,422.8 L1789.4,423.2 L1790.5,423.6 L1791.6,424.0 L1792.7,424.3 L1793.9,424.7 L1795.0,425.0 L1796.1,425.3 L1797.2,425.6 L1798.3,425.9 L1799.4,426.1 L1800.6,426.4 L1801.7,426.6 L1802.8,426.8 L1803.9,427.0 L1805.0,427.2 L1806.1,427.3 L1807.3,427.4 L1808.4,427.6 L1809.5,427.7 L1810.6,427.8 L1811.7,427.8 L1812.8,427.9 L1814.0,427.9 L1815.1,427.9 L1816.2,427.9 L1817.3,427.9 L1818.4,427.8 L1819.5,427.8 L1820.7,427.7 L1821.8,427.6 L1822.9,427.5 L1824.0,427.3 L1825.1,427.2 L1826.2,427.0 L1827.4,426.8 L1828.5,426.6 L1829.6,426.3 L1830.7,426.1 L1831.8,425.8 L1832.9,425.5 L1834.1,425.2 L1835.2,424.9 L1836.3,424.6 L1837.4,424.2 L1838.5,423.9 L1839.6,423.5 L1840.8,423.1 L1841.9,422.7 L1843.0,422.3 L1844.1,421.8 L1845.2,421.4 L1846.3,420.9 L1847.5,420.4 L1848.6,420.0 L1849.7,419.5 L1850.8,419.0 L1851.9,418.5 L1853.0,417.9 L1854.2,417.4 L1855.3,416.9 L1856.4,416.3 L1857.5,415.7 L1858.6,415.2 L1859.7,414.6 L1860.9,414.0 L1862.0,413.4 L1863.1,412.8 L1864.2,412.2 L1865.3,411.6 L1866.4,411.0 L1867.6,410.3 L1868.7,409.7 L1869.8,409.1 L1870.9,408.4 L1872.0,407.8 L1873.1,407.1 L1874.3,406.5 L1875.4,405.8 L1876.5,405.2 L1877.6,404.5 L1878.7,403.8 L1879.8,403.2 L1881.0,402.5 L1882.1,401.8 L1883.2,401.2 L1884.3,400.5" fill="none" stroke="#d20a0a" stroke-width="3.8" stroke-linejoin="round"/>
<circle cx="1327.1" cy="565.6" r="7.9" fill="#000"/><circle cx="1388.9" cy="510.6" r="7.9" fill="#000"/><circle cx="1450.6" cy="600.0" r="7.9" fill="#000"/><circle cx="1512.6" cy="610.5" r="7.9" fill="#000"/><circle cx="1574.7" cy="575.7" r="7.9" fill="#000"/><circle cx="1636.8" cy="523.5" r="7.9" fill="#000"/><circle cx="1698.3" cy="397.9" r="7.9" fill="#000"/><circle cx="1760.7" cy="408.3" r="7.9" fill="#000"/><circle cx="1822.5" cy="427.5" r="7.9" fill="#000"/><circle cx="1884.3" cy="400.5" r="7.9" fill="#000"/>
<rect x="1203.4" y="93.8" width="854.2" height="613.8" fill="none" stroke="#6c6c6c" stroke-width="2.5"/>
<rect x="1265.5" y="705.5" width="618.8" height="4.2" fill="rgba(255,255,255,0.32)"/>
<line x1="1194" y1="707.6" x2="1203.4" y2="707.6" stroke="#6c6c6c" stroke-width="2.4"/><text x="1183" y="716.0" text-anchor="end" class="tk">800</text><line x1="1194" y1="630.8" x2="1203.4" y2="630.8" stroke="#6c6c6c" stroke-width="2.4"/><text x="1183" y="639.2" text-anchor="end" class="tk">1000</text><line x1="1194" y1="554.1" x2="1203.4" y2="554.1" stroke="#6c6c6c" stroke-width="2.4"/><text x="1183" y="562.5" text-anchor="end" class="tk">1200</text><line x1="1194" y1="477.4" x2="1203.4" y2="477.4" stroke="#6c6c6c" stroke-width="2.4"/><text x="1183" y="485.8" text-anchor="end" class="tk">1400</text><line x1="1194" y1="400.7" x2="1203.4" y2="400.7" stroke="#6c6c6c" stroke-width="2.4"/><text x="1183" y="409.1" text-anchor="end" class="tk">1600</text><line x1="1194" y1="324.0" x2="1203.4" y2="324.0" stroke="#6c6c6c" stroke-width="2.4"/><text x="1183" y="332.4" text-anchor="end" class="tk">1800</text><line x1="1194" y1="247.2" x2="1203.4" y2="247.2" stroke="#6c6c6c" stroke-width="2.4"/><text x="1183" y="255.6" text-anchor="end" class="tk">2000</text><line x1="1194" y1="170.5" x2="1203.4" y2="170.5" stroke="#6c6c6c" stroke-width="2.4"/><text x="1183" y="178.9" text-anchor="end" class="tk">2200</text><line x1="1194" y1="93.8" x2="1203.4" y2="93.8" stroke="#6c6c6c" stroke-width="2.4"/><text x="1183" y="102.2" text-anchor="end" class="tk">2400</text>
<line x1="1203.4" y1="707.6" x2="1203.4" y2="716.6" stroke="#6c6c6c" stroke-width="2.4"/><text x="1201.4" y="749.6" text-anchor="middle" class="tk">-12 000</text><line x1="1327.3" y1="707.6" x2="1327.3" y2="716.6" stroke="#6c6c6c" stroke-width="2.4"/><text x="1325.3" y="749.6" text-anchor="middle" class="tk">-10 000</text><line x1="1451.2" y1="707.6" x2="1451.2" y2="716.6" stroke="#6c6c6c" stroke-width="2.4"/><text x="1451.2" y="749.6" text-anchor="middle" class="tk">-8000</text><line x1="1575.1" y1="707.6" x2="1575.1" y2="716.6" stroke="#6c6c6c" stroke-width="2.4"/><text x="1575.1" y="749.6" text-anchor="middle" class="tk">-6000</text><line x1="1699.0" y1="707.6" x2="1699.0" y2="716.6" stroke="#6c6c6c" stroke-width="2.4"/><text x="1699.0" y="749.6" text-anchor="middle" class="tk">-4000</text><line x1="1822.9" y1="707.6" x2="1822.9" y2="716.6" stroke="#6c6c6c" stroke-width="2.4"/><text x="1822.9" y="749.6" text-anchor="middle" class="tk">-2000</text><line x1="1946.8" y1="707.6" x2="1946.8" y2="716.6" stroke="#6c6c6c" stroke-width="2.4"/><text x="1946.8" y="749.6" text-anchor="middle" class="tk">0</text>
<text x="1212.4" y="124.4" class="lab" style="font-size:27px" textLength="8.66" lengthAdjust="spacingAndGlyphs">(</text><text x="1221.2" y="124.6" class="lab" style="font-size:25.5px" textLength="14.2" lengthAdjust="spacingAndGlyphs">b</text><text x="1235.4" y="124.4" class="lab" style="font-size:27px" textLength="8.66" lengthAdjust="spacingAndGlyphs">)</text>
<text x="1573.2" y="803.8" class="axt" textLength="116" lengthAdjust="spacingAndGlyphs">BP TIME</text>
<text transform="translate(1103.3,532.2) rotate(-90)" class="axt" textLength="261" lengthAdjust="spacingAndGlyphs">Precipitation, mm/yr</text>

<rect x="1203.5" y="817.9" width="811.9" height="114.5" fill="none" stroke="#404040" stroke-width="2.4"/>
<line x1="1220.2" y1="847.9" x2="1273.7" y2="847.9" stroke="#000" stroke-width="4" stroke-linecap="round"/>
<rect x="1220.9" y="868.1" width="52.5" height="17.9" rx="1" fill="#dedede" stroke="#626262" stroke-width="2"/>
<line x1="1219.5" y1="901.8" x2="1274.5" y2="901.8" stroke="#c40018" stroke-width="3.8" stroke-linecap="round"/>
<circle cx="1246.7" cy="901.8" r="7.2" fill="#000"/>
<text x="1286.5" y="856.2" class="leg">BP Time vs precipitation, 11.5K_Down</text>
<text x="1286.5" y="882.7" class="leg" textLength="704" lengthAdjust="spacingAndGlyphs">BP Time vs range between 1000 yr maximum and minimum values</text>
<text x="1286.5" y="908.9" class="leg">BP Time vs Proxy data</text>
</g>
</svg>
</body></html>
